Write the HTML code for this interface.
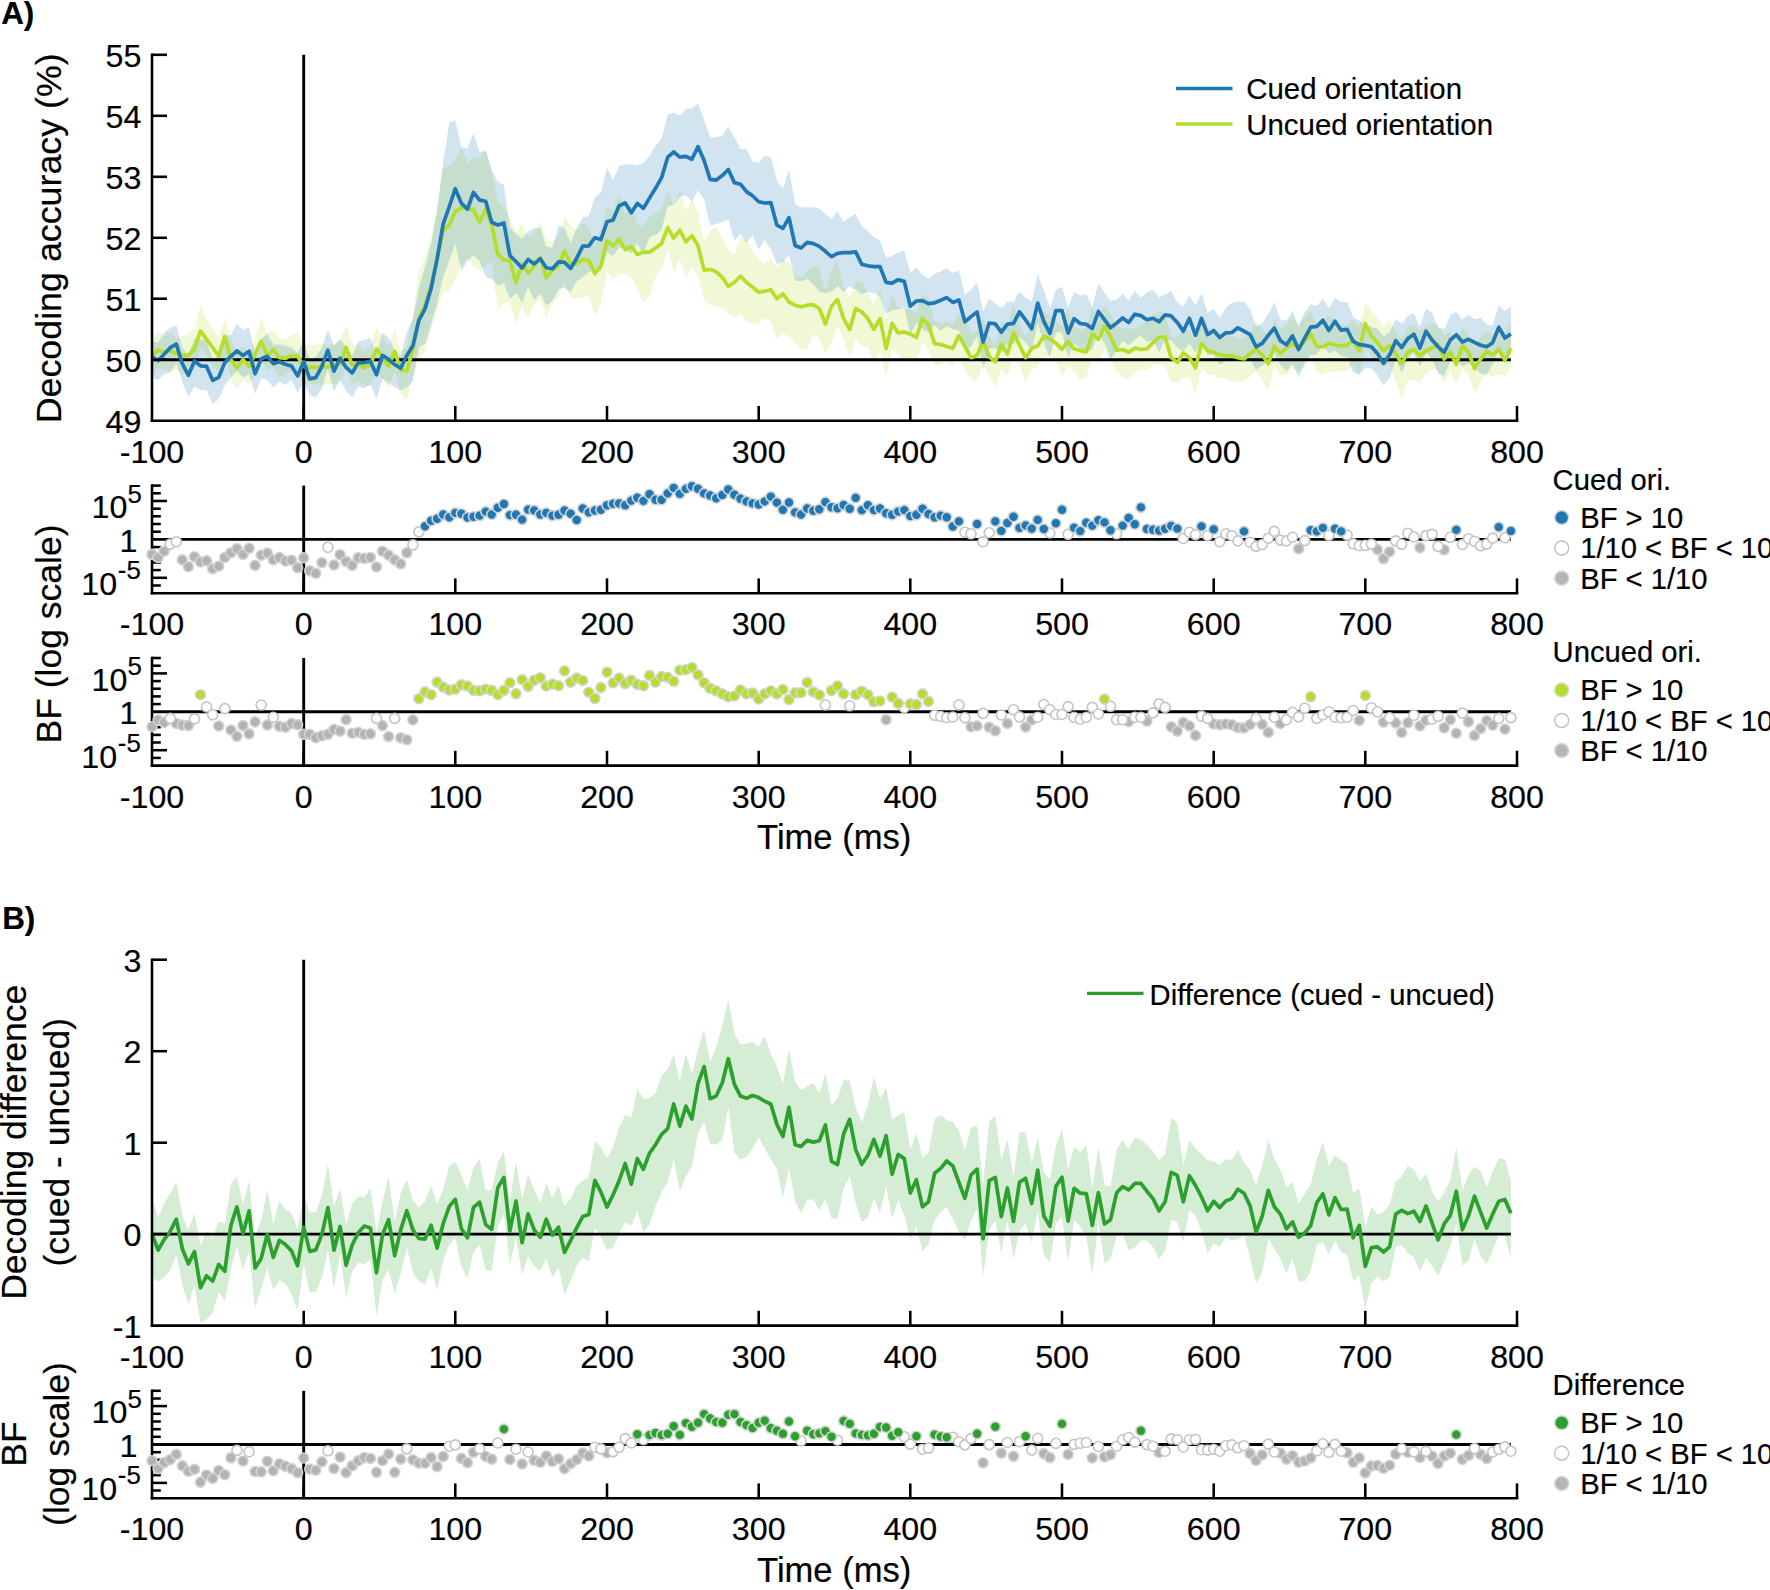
<!DOCTYPE html>
<html><head><meta charset="utf-8"><title>Figure</title>
<style>html,body{margin:0;padding:0;background:#fff}svg{display:block}</style></head>
<body>
<svg width="1770" height="1590" viewBox="0 0 1770 1590" font-family="'Liberation Sans', Arial, Helvetica, sans-serif" fill="#000"><style>text{stroke:#000;stroke-width:0.2px}</style>
<rect width="1770" height="1590" fill="#fff"/>
<polygon points="152,340.2 158.1,330.8 164.1,336.6 170.2,332.6 176.3,338.2 182.3,336.7 188.4,333.2 194.5,329 200.5,305.8 206.6,319.8 212.7,328.4 218.7,338 224.8,317.6 230.9,338.6 236.9,352.9 243,346.1 249.1,353.8 255.1,339.7 261.2,317.2 267.3,332.7 273.3,329.8 279.4,338.9 285.5,339.6 291.5,335.5 297.6,332.8 303.7,344.2 309.7,345.1 315.8,344.9 321.9,343.3 327.9,346.3 334,343.8 340.1,340.2 346.1,325.5 352.2,344.5 358.3,344.6 364.3,351.2 370.4,346.2 376.5,327.9 382.5,335.9 388.6,346.5 394.7,328.1 400.7,351.3 406.8,346.4 412.9,316.3 418.9,271.1 425,258 431.1,236.2 437.1,207.8 443.2,167.6 449.3,165.4 455.3,160.2 461.4,146.2 467.5,163.3 473.5,157.8 479.6,157.5 485.7,149.8 491.7,172.4 497.8,200.8 503.9,207.2 509.9,218.4 516,232.5 522.1,224.1 528.1,236.5 534.2,234.2 540.3,220.9 546.3,239.6 552.4,242.5 558.5,236.8 564.5,216.4 570.6,226 576.7,229.4 582.7,222.6 588.8,227.5 594.9,245.9 600.9,228.2 607,206.9 613.1,210.7 619.1,194.6 625.2,214 631.3,205 637.3,224.1 643.4,226.6 649.5,216.5 655.5,213.7 661.6,209.6 667.7,190.4 673.7,206.5 679.8,189.1 685.9,211.3 691.9,198.9 698,212.9 704.1,241.6 710.1,231.5 716.2,226.2 722.3,238.3 728.3,250.1 734.4,254.8 740.5,238.1 746.5,239.8 752.6,252 758.7,258.7 764.7,264.7 770.8,258.4 776.9,267.4 782.9,259.5 789,261.6 795.1,276.7 801.1,277.8 807.2,271.1 813.3,266.4 819.3,268.5 825.4,290.8 831.5,269.6 837.5,260.8 843.6,286.2 849.7,298.2 855.7,280.8 861.8,282.1 867.9,292.5 873.9,305 880,288.5 886.1,319.4 892.1,295.4 898.2,307.5 904.3,309.1 910.3,309.2 916.4,313.3 922.5,293.3 928.5,299.3 934.6,321.3 940.7,324.1 946.7,321.1 952.8,324.3 958.9,313.4 964.9,319.6 971,332.7 977.1,331.1 983.1,318 989.2,336.9 995.3,344.2 1001.3,322 1007.4,325.9 1013.5,304.6 1019.5,323.9 1025.6,337.8 1031.7,322.2 1037.7,317.4 1043.8,311.5 1049.9,315.6 1055.9,322.4 1062,325.3 1068.1,308.6 1074.1,326.3 1080.2,330.2 1086.3,327.7 1092.3,306.9 1098.4,319 1104.5,304.9 1110.5,313.3 1116.6,325.9 1122.7,328.2 1128.7,328.3 1134.8,329.2 1140.9,325.3 1146.9,321.4 1153,316 1159.1,311.2 1165.1,313.5 1171.2,336.4 1177.3,337.5 1183.3,329.7 1189.4,330.4 1195.5,340.9 1201.5,314.5 1207.6,326.6 1213.7,331.8 1219.7,333.2 1225.8,329.1 1231.9,335.4 1237.9,338.7 1244,337.8 1250.1,334.1 1256.1,321 1262.2,329.5 1268.3,337 1274.3,318.4 1280.4,330.8 1286.5,323.4 1292.5,318.2 1298.6,323.5 1304.7,316.6 1310.7,310.8 1316.8,325.8 1322.9,320.6 1328.9,316 1335,319.5 1341.1,325 1347.1,325.3 1353.2,319.8 1359.3,327.6 1365.3,302.8 1371.4,311.1 1377.5,317.3 1383.5,326.8 1389.6,319.6 1395.7,331.8 1401.7,338.9 1407.8,326.9 1413.9,324.9 1419.9,331.8 1426,325.7 1432.1,323.6 1438.1,324.7 1444.2,335.1 1450.3,331.4 1456.3,340.8 1462.4,327.8 1468.5,335.8 1474.5,347.9 1480.6,336.3 1486.7,332 1492.7,334.9 1498.8,326.9 1504.9,332.5 1510.9,321.7 1510.9,367.5 1504.9,376.4 1498.8,374.1 1492.7,377.1 1486.7,374 1480.6,383.1 1474.5,392.5 1468.5,374.7 1462.4,367.9 1456.3,384.9 1450.3,369.9 1444.2,383.3 1438.1,369.9 1432.1,369.6 1426,373.5 1419.9,383.4 1413.9,379.8 1407.8,380.2 1401.7,398.8 1395.7,381.2 1389.6,364.1 1383.5,367.2 1377.5,362.7 1371.4,355.6 1365.3,346.4 1359.3,378.9 1353.2,364.4 1347.1,371.7 1341.1,370.8 1335,372.3 1328.9,371.4 1322.9,374.6 1316.8,372.7 1310.7,355.8 1304.7,366.9 1298.6,371.4 1292.5,368.1 1286.5,375 1280.4,375.6 1274.3,365.2 1268.3,390.8 1262.2,381 1256.1,370.7 1250.1,376 1244,381.6 1237.9,381.2 1231.9,382.3 1225.8,378.2 1219.7,377.8 1213.7,374.9 1207.6,374.1 1201.5,368.1 1195.5,395.2 1189.4,376.5 1183.3,378 1177.3,382.9 1171.2,381.4 1165.1,367.1 1159.1,363.9 1153,364.9 1146.9,369.9 1140.9,369.8 1134.8,372.9 1128.7,379.2 1122.7,377.1 1116.6,371.8 1110.5,359.4 1104.5,350.1 1098.4,362.5 1092.3,359.7 1086.3,376.3 1080.2,380.3 1074.1,371.8 1068.1,365.7 1062,376.8 1055.9,360.1 1049.9,356.1 1043.8,357.4 1037.7,367.2 1031.7,369.2 1025.6,382.8 1019.5,365.1 1013.5,358.6 1007.4,376 1001.3,368.5 995.3,387.6 989.2,376.1 983.1,362.5 977.1,381.3 971,379.6 964.9,369.9 958.9,357.4 952.8,366.3 946.7,361.3 940.7,364.3 934.6,365.6 928.5,349.1 922.5,341.4 916.4,362.7 910.3,360.4 904.3,360.6 898.2,354.5 892.1,349.8 886.1,377.1 880,348.8 873.9,364.2 867.9,346.6 861.8,345.9 855.7,339.1 849.7,358 843.6,338.3 837.5,326.4 831.5,342.1 825.4,354.2 819.3,338.1 813.3,334.1 807.2,348.4 801.1,349.4 795.1,343.3 789,335.7 782.9,334 776.9,339 770.8,321.6 764.7,317.8 758.7,322.9 752.6,324 746.5,320.2 740.5,315 734.4,316.9 728.3,313.4 722.3,307.9 716.2,306.6 710.1,304.9 704.1,299.7 698,275.5 691.9,266.8 685.9,278.2 679.8,259.1 673.7,272.2 667.7,248.4 661.6,268.9 655.5,277.3 649.5,296.2 643.4,302 637.3,288.2 631.3,277 625.2,273.5 619.1,274.4 613.1,279.2 607,270.9 600.9,303.2 594.9,315.7 588.8,295.8 582.7,297.3 576.7,298.4 570.6,297.4 564.5,282.4 558.5,297 552.4,303.7 546.3,316.9 540.3,299.4 534.2,303.8 528.1,319 522.1,306.3 516,323.5 509.9,302.1 503.9,302.4 497.8,310.1 491.7,261 485.7,265.7 479.6,270.6 473.5,266.3 467.5,258.1 461.4,265.3 455.3,277.7 449.3,291.9 443.2,292 437.1,310.5 431.1,328.4 425,351.6 418.9,359.1 412.9,376.7 406.8,400.4 400.7,393.5 394.7,370.4 388.6,388.2 382.5,378.9 376.5,370.9 370.4,386.3 364.3,384.7 358.3,381.7 352.2,384.3 346.1,366.7 340.1,381.3 334,383.9 327.9,384 321.9,385.7 315.8,384.5 309.7,383.8 303.7,383.6 297.6,372.1 291.5,370.8 285.5,374.6 279.4,376.9 273.3,368 267.3,370.8 261.2,359.8 255.1,372.5 249.1,385 243,378.5 236.9,388.7 230.9,379.1 224.8,356 218.7,373.6 212.7,364.8 206.6,354.7 200.5,348.7 194.5,367.6 188.4,376.1 182.3,373.8 176.3,369.8 170.2,371.5 164.1,370 158.1,367.6 152,374.8" fill="#b5de2b" fill-opacity="0.2"/>
<polygon points="152,340.6 158.1,343.1 164.1,332.7 170.2,327.7 176.3,325.3 182.3,347.8 188.4,355.3 194.5,338 200.5,339.8 206.6,340.1 212.7,358.8 218.7,356.3 224.8,336.7 230.9,334.7 236.9,323.7 243,330.2 249.1,327.3 255.1,353.2 261.2,338.9 267.3,333.9 273.3,344.8 279.4,344.6 285.5,346.1 291.5,347.7 297.6,352.8 303.7,341.8 309.7,360.3 315.8,356.7 321.9,348 327.9,329.7 334,346.1 340.1,338.8 346.1,347.1 352.2,356 358.3,341.4 364.3,340.2 370.4,338.1 376.5,355.4 382.5,332.8 388.6,337.6 394.7,350.2 400.7,356.2 406.8,332.3 412.9,318.9 418.9,288 425,267.5 431.1,243.5 437.1,210.7 443.2,162.6 449.3,122.5 455.3,120.3 461.4,147.4 467.5,147.9 473.5,132.9 479.6,152.6 485.7,150.4 491.7,170 497.8,181.4 503.9,185 509.9,227.8 516,233.9 522.1,238.9 528.1,231.5 534.2,228.1 540.3,227.8 546.3,246.9 552.4,247.4 558.5,225.6 564.5,228.2 570.6,243.2 576.7,228.1 582.7,217.5 588.8,216 594.9,197.2 600.9,192.3 607,167.8 613.1,180.1 619.1,166.1 625.2,164.6 631.3,164.3 637.3,165.5 643.4,162.9 649.5,155.9 655.5,145.7 661.6,138.8 667.7,114.7 673.7,112.7 679.8,115.6 685.9,109.3 691.9,108.2 698,103.5 704.1,120.1 710.1,137.3 716.2,137.1 722.3,135.6 728.3,126.3 734.4,137.3 740.5,149 746.5,149 752.6,161.4 758.7,162.8 764.7,155.6 770.8,156.9 776.9,180.6 782.9,188.7 789,169.5 795.1,203.4 801.1,207.4 807.2,207.2 813.3,207.5 819.3,208.4 825.4,213.9 831.5,218.7 837.5,211.3 843.6,221.9 849.7,217.2 855.7,213.7 861.8,226.6 867.9,230.9 873.9,236.9 880,240.4 886.1,257.7 892.1,256.1 898.2,252.1 904.3,250.7 910.3,272.7 916.4,267.6 922.5,274.9 928.5,278.8 934.6,273.4 940.7,271.4 946.7,267.8 952.8,273 958.9,270.2 964.9,295 971,289.5 977.1,282.8 983.1,311 989.2,298.6 995.3,303.7 1001.3,308 1007.4,301.8 1013.5,301.7 1019.5,291.6 1025.6,297.7 1031.7,301.6 1037.7,273.9 1043.8,289.7 1049.9,308.3 1055.9,289.7 1062,286.7 1068.1,307.1 1074.1,292.2 1080.2,295.5 1086.3,294.4 1092.3,307.6 1098.4,283.3 1104.5,292.6 1110.5,301 1116.6,299.5 1122.7,293.7 1128.7,300.5 1134.8,290.8 1140.9,297.7 1146.9,292.6 1153,289.8 1159.1,297.5 1165.1,294.4 1171.2,290.8 1177.3,302.8 1183.3,306.4 1189.4,295.4 1195.5,305.3 1201.5,293.5 1207.6,312.8 1213.7,308.8 1219.7,317.7 1225.8,307.9 1231.9,302.9 1237.9,301.2 1244,301.7 1250.1,309.3 1256.1,326.2 1262.2,323.5 1268.3,314.1 1274.3,302.5 1280.4,319.4 1286.5,320.5 1292.5,311 1298.6,327 1304.7,312.2 1310.7,304.6 1316.8,306.1 1322.9,298.8 1328.9,308.3 1335,298.2 1341.1,302.1 1347.1,302.1 1353.2,317.2 1359.3,320.6 1365.3,324.3 1371.4,327.2 1377.5,328.4 1383.5,336.2 1389.6,332.5 1395.7,318.7 1401.7,324.3 1407.8,315.8 1413.9,313.3 1419.9,326.4 1426,308.7 1432.1,312.8 1438.1,327.8 1444.2,329.3 1450.3,315.2 1456.3,311.8 1462.4,319.6 1468.5,315 1474.5,319.3 1480.6,317.8 1486.7,324.2 1492.7,325.4 1498.8,305.3 1504.9,311.2 1510.9,305.7 1510.9,353.4 1504.9,356.4 1498.8,351.1 1492.7,363.9 1486.7,374.7 1480.6,373.3 1474.5,367.8 1468.5,363.6 1462.4,366.4 1456.3,359.3 1450.3,360.9 1444.2,376.1 1438.1,373.5 1432.1,359.3 1426,353.1 1419.9,366.7 1413.9,352.9 1407.8,359.3 1401.7,372.5 1395.7,359.2 1389.6,378.3 1383.5,385 1377.5,375.4 1371.4,368.2 1365.3,368.3 1359.3,374 1353.2,372.7 1347.1,357.1 1341.1,356.2 1335,350.4 1328.9,353.6 1322.9,345.2 1316.8,354.6 1310.7,355.4 1304.7,362.8 1298.6,377.5 1292.5,364 1286.5,371.8 1280.4,365.1 1274.3,353 1268.3,361.3 1262.2,365.7 1256.1,370 1250.1,359.5 1244,360.1 1237.9,355.5 1231.9,357.1 1225.8,361.4 1219.7,364.8 1213.7,354.8 1207.6,354.9 1201.5,339.8 1195.5,352.7 1189.4,343.4 1183.3,351.2 1177.3,347.5 1171.2,340.5 1165.1,339.3 1159.1,352.2 1153,340.6 1146.9,341.8 1140.9,335.6 1134.8,339.6 1128.7,345.5 1122.7,340.9 1116.6,351.1 1110.5,359.1 1104.5,342.8 1098.4,333.2 1092.3,349.3 1086.3,352.6 1080.2,348.6 1074.1,343.7 1068.1,357.3 1062,332.7 1055.9,332 1049.9,358.1 1043.8,342.7 1037.7,322.9 1031.7,351 1025.6,342.6 1019.5,337 1013.5,344.1 1007.4,344.7 1001.3,353.4 995.3,348.4 989.2,348.5 983.1,369.7 977.1,335.8 971,346.5 964.9,351.5 958.9,330.6 952.8,329.2 946.7,325.8 940.7,330.9 934.6,324.9 928.5,332.2 922.5,328.8 916.4,323.2 910.3,333.9 904.3,308 898.2,309.2 892.1,310.3 886.1,313.9 880,296.7 873.9,293 867.9,291.9 861.8,293.9 855.7,289.5 849.7,286.4 843.6,292.1 837.5,286.1 831.5,291.6 825.4,293.3 819.3,291.4 813.3,283.9 807.2,279 801.1,281.3 795.1,280.5 789,255.2 782.9,262.1 776.9,264.1 770.8,249.5 764.7,239.6 758.7,249.3 752.6,235.5 746.5,242.7 740.5,233.9 734.4,240.8 728.3,219.6 722.3,222.2 716.2,224 710.1,225.2 704.1,199.2 698,190.3 691.9,201.5 685.9,195.5 679.8,196.6 673.7,205.3 667.7,206 661.6,229.7 655.5,235 649.5,237.1 643.4,254.5 637.3,243.2 631.3,253.6 625.2,248.9 619.1,247 613.1,255.9 607,252 600.9,270.9 594.9,270.2 588.8,272 582.7,277.3 576.7,281.2 570.6,292.6 564.5,287.5 558.5,288.9 552.4,301.1 546.3,305.5 540.3,293.8 534.2,300 528.1,286.8 522.1,302.7 516,293 509.9,298.9 503.9,282.9 497.8,285.5 491.7,279.1 485.7,277.1 479.6,260.8 473.5,255.6 467.5,261.1 461.4,270.6 455.3,243.8 449.3,260.6 443.2,276.5 437.1,303.6 431.1,324.4 425,343.8 418.9,347.3 412.9,380.6 406.8,387.5 400.7,390.3 394.7,387.1 388.6,382.9 382.5,378.4 376.5,399.4 370.4,384.3 364.3,388.2 358.3,386.7 352.2,397.3 346.1,390.8 340.1,379.8 334,391.3 327.9,368.4 321.9,388.8 315.8,397.4 309.7,395.6 303.7,382.2 297.6,392.5 291.5,379.5 285.5,384.9 279.4,381.6 273.3,387.2 267.3,380.3 261.2,378.3 255.1,394.1 249.1,373.9 243,377.5 236.9,371 230.9,377.6 224.8,385.5 218.7,398.8 212.7,404.3 206.6,390.3 200.5,390.1 194.5,386.6 188.4,396.7 182.3,381.9 176.3,363 170.2,372.4 164.1,374.1 158.1,379.9 152,377.7" fill="#1f77b4" fill-opacity="0.2"/>
<line x1="152" y1="359.7" x2="1510.9" y2="359.7" stroke="#000" stroke-width="2.9" stroke-linecap="butt"/>
<line x1="303.7" y1="54.8" x2="303.7" y2="420.7" stroke="#000" stroke-width="2.9" stroke-linecap="butt"/>
<polyline points="152,355.6 158.1,350.2 164.1,352.2 170.2,350.8 176.3,353.6 182.3,355.3 188.4,355.3 194.5,348.8 200.5,330.9 206.6,339.3 212.7,347.5 218.7,355.9 224.8,336.3 230.9,359.7 236.9,368.2 243,359.7 249.1,366.4 255.1,353.6 261.2,341.4 267.3,355.6 273.3,349.5 279.4,357.6 285.5,358.3 291.5,355.3 297.6,356.3 303.7,366.4 309.7,367.4 315.8,367.4 321.9,366.4 327.9,367.1 334,365.1 340.1,363.7 346.1,347.5 352.2,365.1 358.3,364.4 364.3,367.8 370.4,365.1 376.5,348.8 382.5,357.2 388.6,366.5 394.7,351.4 400.7,370.2 406.8,371 412.9,348.9 418.9,317.9 425,304.8 431.1,285.2 437.1,259 443.2,231.2 449.3,224.7 455.3,211.6 461.4,207.5 467.5,208.3 473.5,209.9 479.6,222.2 485.7,209.1 491.7,224.7 497.8,254.1 503.9,259.8 509.9,260.6 516,282.7 522.1,263.9 528.1,272.9 534.2,266.4 540.3,257.4 546.3,277.8 552.4,270.4 558.5,265.5 564.5,250.8 570.6,263.9 576.7,263.9 582.7,259 588.8,260.6 594.9,273.7 600.9,266.2 607,240.8 613.1,245.7 619.1,239.2 625.2,249.6 631.3,246.4 637.3,254.5 643.4,252.1 649.5,252.1 655.5,248 661.6,243.6 667.7,227.6 673.7,238.2 679.8,230 685.9,241.9 691.9,235.7 698,245.5 704.1,270.1 710.1,269.3 716.2,271.7 722.3,277.4 728.3,286.4 734.4,282.3 740.5,276.3 746.5,282.3 752.6,287.2 758.7,292.2 764.7,291.3 770.8,289.7 776.9,298.7 782.9,293.8 789,302 795.1,305.2 801.1,306.9 807.2,305.2 813.3,304.7 819.3,308.5 825.4,324 831.5,306.2 837.5,299.6 843.6,318.6 849.7,329.5 855.7,308.5 861.8,311.9 867.9,318.6 873.9,329.5 880,318.6 886.1,348.5 892.1,323.4 898.2,332.9 904.3,331.9 910.3,334.2 916.4,337.4 922.5,318.6 928.5,324.7 934.6,343.7 940.7,344.4 946.7,346.4 952.8,348.2 958.9,335.6 964.9,346.4 971,357.7 977.1,355.3 983.1,341 989.2,356.6 995.3,362 1001.3,344.4 1007.4,353.9 1013.5,332.9 1019.5,345.1 1025.6,357.7 1031.7,348.5 1037.7,345.8 1043.8,336.3 1049.9,339 1055.9,343.1 1062,349.3 1068.1,341.2 1074.1,348.8 1080.2,350.6 1086.3,351.9 1092.3,333.9 1098.4,339.3 1104.5,326.4 1110.5,336.6 1116.6,350.2 1122.7,349.5 1128.7,352.2 1134.8,348.1 1140.9,349.5 1146.9,348.8 1153,342.7 1159.1,337 1165.1,337 1171.2,357.6 1177.3,362.4 1183.3,352.9 1189.4,357.6 1195.5,367.8 1201.5,343.4 1207.6,350.8 1213.7,352.2 1219.7,354.9 1225.8,355.6 1231.9,355.9 1237.9,357.6 1244,359 1250.1,353.6 1256.1,349.5 1262.2,354.9 1268.3,363.7 1274.3,346.1 1280.4,353.6 1286.5,348.1 1292.5,343.7 1298.6,348.1 1304.7,341.4 1310.7,333.9 1316.8,346.5 1322.9,346.8 1328.9,343.4 1335,344.7 1341.1,346.1 1347.1,345.4 1353.2,340 1359.3,350.8 1365.3,323.7 1371.4,335.9 1377.5,342.7 1383.5,350.8 1389.6,345.4 1395.7,353.6 1401.7,363.7 1407.8,352.2 1413.9,349.5 1419.9,355.6 1426,350.8 1432.1,348.1 1438.1,344.7 1444.2,359 1450.3,352.2 1456.3,364.4 1462.4,346.1 1468.5,352.2 1474.5,368.5 1480.6,359 1486.7,351.5 1492.7,354.9 1498.8,349.5 1504.9,360.3 1510.9,348.1" fill="none" stroke="#b5de2b" stroke-width="3.7" stroke-linejoin="round" stroke-linecap="butt"/>
<polyline points="152,356.9 158.1,360.7 164.1,354.2 170.2,347.7 176.3,344.1 182.3,363.7 188.4,375.3 194.5,361 200.5,365.8 206.6,366.4 212.7,380.3 218.7,377.3 224.8,362.6 230.9,356.3 236.9,350.8 243,355.6 249.1,351.3 255.1,373.9 261.2,359 267.3,356.3 273.3,363.7 279.4,361.7 285.5,364.4 291.5,366 297.6,375.9 303.7,361.7 309.7,378.9 315.8,377.6 321.9,366.4 327.9,350.2 334,371.2 340.1,358.3 346.1,367.4 352.2,372.8 358.3,362.6 364.3,362.6 370.4,361.3 376.5,374.8 382.5,355.4 388.6,359.4 394.7,364.5 400.7,368.2 406.8,355.5 412.9,345.7 418.9,320.3 425,308.9 431.1,288.4 437.1,259 443.2,223.8 449.3,206.7 455.3,188.7 461.4,203.4 467.5,209.1 473.5,192.4 479.6,200.1 485.7,201.3 491.7,222.2 497.8,225 503.9,223 509.9,255.7 516,261.5 522.1,268 528.1,259.5 534.2,263.9 540.3,258.7 546.3,267.7 552.4,268.8 558.5,261.9 564.5,262.3 570.6,268.5 576.7,258.2 582.7,246.2 588.8,245.9 594.9,237.7 600.9,239.6 607,221.8 613.1,220 619.1,205.7 625.2,203 631.3,212.8 637.3,203.4 643.4,208.3 649.5,198.1 655.5,188.3 661.6,177.7 667.7,157.2 673.7,152 679.8,157.2 685.9,156.4 691.9,159.2 698,146.6 704.1,160.5 710.1,179.3 716.2,180.1 722.3,175.6 728.3,169.5 734.4,182.6 740.5,184.2 746.5,191.6 752.6,195.7 758.7,201.7 764.7,203 770.8,202.7 776.9,225.1 782.9,228.4 789,217.7 795.1,245.5 801.1,248 807.2,242.3 813.3,243.6 819.3,246.4 825.4,251.3 831.5,256.6 837.5,253.4 843.6,252.6 849.7,252.6 855.7,251.9 861.8,264.4 867.9,265.8 873.9,266.7 880,266.7 886.1,282.3 892.1,283.1 898.2,279.7 904.3,281.4 910.3,306.2 916.4,301 922.5,300.6 928.5,303.7 934.6,302.8 940.7,300.3 946.7,297.6 952.8,302.4 958.9,300.1 964.9,321.8 971,316.6 977.1,311.9 983.1,342 989.2,323 995.3,323.8 1001.3,332.2 1007.4,324.1 1013.5,323.4 1019.5,311.9 1025.6,320 1031.7,328.8 1037.7,303.1 1043.8,321.4 1049.9,333.3 1055.9,310.5 1062,310.7 1068.1,333.1 1074.1,318.6 1080.2,323.5 1086.3,324.4 1092.3,328.5 1098.4,311.5 1104.5,319.7 1110.5,327.8 1116.6,323.1 1122.7,318 1128.7,322.4 1134.8,314.2 1140.9,315.6 1146.9,319.7 1153,318.3 1159.1,321.7 1165.1,314.9 1171.2,315.9 1177.3,322.4 1183.3,331.2 1189.4,318.3 1195.5,335.3 1201.5,318.3 1207.6,334.6 1213.7,330.5 1219.7,337.6 1225.8,332.9 1231.9,332.5 1237.9,327.8 1244,331.2 1250.1,334.6 1256.1,346.8 1262.2,343.4 1268.3,335.3 1274.3,328.1 1280.4,340.7 1286.5,344.7 1292.5,335.9 1298.6,349.5 1304.7,338 1310.7,327.1 1316.8,326.4 1322.9,320.3 1328.9,330.5 1335,321.3 1341.1,330.2 1347.1,329.4 1353.2,341.4 1359.3,344.7 1365.3,345.4 1371.4,346.8 1377.5,353.6 1383.5,363.3 1389.6,354.9 1395.7,340.7 1401.7,347.5 1407.8,338.6 1413.9,334.3 1419.9,348.1 1426,331.2 1432.1,340 1438.1,346.8 1444.2,352.2 1450.3,340 1456.3,334.8 1462.4,342 1468.5,339.3 1474.5,342.4 1480.6,345.2 1486.7,346.8 1492.7,342.7 1498.8,327.1 1504.9,338 1510.9,333.9" fill="none" stroke="#1f77b4" stroke-width="3.7" stroke-linejoin="round" stroke-linecap="butt"/>
<line x1="152" y1="53.5" x2="152" y2="422" stroke="#000" stroke-width="2.55" stroke-linecap="butt"/>
<text x="141.3" y="432.9" font-size="32.2" text-anchor="end">49</text>
<line x1="152" y1="359.7" x2="167" y2="359.7" stroke="#000" stroke-width="2.55" stroke-linecap="butt"/>
<text x="141.3" y="371.9" font-size="32.2" text-anchor="end">50</text>
<line x1="152" y1="298.7" x2="167" y2="298.7" stroke="#000" stroke-width="2.55" stroke-linecap="butt"/>
<text x="141.3" y="310.9" font-size="32.2" text-anchor="end">51</text>
<line x1="152" y1="237.8" x2="167" y2="237.8" stroke="#000" stroke-width="2.55" stroke-linecap="butt"/>
<text x="141.3" y="249.9" font-size="32.2" text-anchor="end">52</text>
<line x1="152" y1="176.8" x2="167" y2="176.8" stroke="#000" stroke-width="2.55" stroke-linecap="butt"/>
<text x="141.3" y="189" font-size="32.2" text-anchor="end">53</text>
<line x1="152" y1="115.8" x2="167" y2="115.8" stroke="#000" stroke-width="2.55" stroke-linecap="butt"/>
<text x="141.3" y="128" font-size="32.2" text-anchor="end">54</text>
<line x1="152" y1="54.8" x2="167" y2="54.8" stroke="#000" stroke-width="2.55" stroke-linecap="butt"/>
<text x="141.3" y="67" font-size="32.2" text-anchor="end">55</text>
<line x1="150.7" y1="420.7" x2="1518.3" y2="420.7" stroke="#000" stroke-width="2.55" stroke-linecap="butt"/>
<text x="152" y="462.6" font-size="32.2" text-anchor="middle">-100</text>
<line x1="303.7" y1="420.7" x2="303.7" y2="405.9" stroke="#000" stroke-width="2.55" stroke-linecap="butt"/>
<text x="303.7" y="462.6" font-size="32.2" text-anchor="middle">0</text>
<line x1="455.3" y1="420.7" x2="455.3" y2="405.9" stroke="#000" stroke-width="2.55" stroke-linecap="butt"/>
<text x="455.3" y="462.6" font-size="32.2" text-anchor="middle">100</text>
<line x1="607" y1="420.7" x2="607" y2="405.9" stroke="#000" stroke-width="2.55" stroke-linecap="butt"/>
<text x="607" y="462.6" font-size="32.2" text-anchor="middle">200</text>
<line x1="758.7" y1="420.7" x2="758.7" y2="405.9" stroke="#000" stroke-width="2.55" stroke-linecap="butt"/>
<text x="758.7" y="462.6" font-size="32.2" text-anchor="middle">300</text>
<line x1="910.3" y1="420.7" x2="910.3" y2="405.9" stroke="#000" stroke-width="2.55" stroke-linecap="butt"/>
<text x="910.3" y="462.6" font-size="32.2" text-anchor="middle">400</text>
<line x1="1062" y1="420.7" x2="1062" y2="405.9" stroke="#000" stroke-width="2.55" stroke-linecap="butt"/>
<text x="1062" y="462.6" font-size="32.2" text-anchor="middle">500</text>
<line x1="1213.7" y1="420.7" x2="1213.7" y2="405.9" stroke="#000" stroke-width="2.55" stroke-linecap="butt"/>
<text x="1213.7" y="462.6" font-size="32.2" text-anchor="middle">600</text>
<line x1="1365.3" y1="420.7" x2="1365.3" y2="405.9" stroke="#000" stroke-width="2.55" stroke-linecap="butt"/>
<text x="1365.3" y="462.6" font-size="32.2" text-anchor="middle">700</text>
<line x1="1517" y1="420.7" x2="1517" y2="405.9" stroke="#000" stroke-width="2.55" stroke-linecap="butt"/>
<text x="1517" y="462.6" font-size="32.2" text-anchor="middle">800</text>
<line x1="1176" y1="88.5" x2="1232.5" y2="88.5" stroke="#1f77b4" stroke-width="3.4" stroke-linecap="butt"/>
<line x1="1176" y1="124" x2="1232.5" y2="124" stroke="#b5de2b" stroke-width="3.4" stroke-linecap="butt"/>
<text x="1246.3" y="99.3" font-size="29.4" text-anchor="start">Cued orientation</text>
<text x="1246.3" y="134.8" font-size="29.4" text-anchor="start">Uncued orientation</text>
<line x1="152" y1="539.4" x2="1510.9" y2="539.4" stroke="#000" stroke-width="2.9" stroke-linecap="butt"/>
<line x1="303.7" y1="485.6" x2="303.7" y2="593.2" stroke="#000" stroke-width="2.9" stroke-linecap="butt"/>
<line x1="152" y1="484.3" x2="152" y2="594.5" stroke="#000" stroke-width="2.55" stroke-linecap="butt"/>
<line x1="152" y1="485.6" x2="160.8" y2="485.6" stroke="#000" stroke-width="2.55" stroke-linecap="butt"/>
<line x1="152" y1="493.3" x2="160.8" y2="493.3" stroke="#000" stroke-width="2.55" stroke-linecap="butt"/>
<line x1="152" y1="501" x2="167" y2="501" stroke="#000" stroke-width="2.55" stroke-linecap="butt"/>
<line x1="152" y1="508.7" x2="160.8" y2="508.7" stroke="#000" stroke-width="2.55" stroke-linecap="butt"/>
<line x1="152" y1="516.3" x2="160.8" y2="516.3" stroke="#000" stroke-width="2.55" stroke-linecap="butt"/>
<line x1="152" y1="524" x2="160.8" y2="524" stroke="#000" stroke-width="2.55" stroke-linecap="butt"/>
<line x1="152" y1="531.7" x2="160.8" y2="531.7" stroke="#000" stroke-width="2.55" stroke-linecap="butt"/>
<line x1="152" y1="547.1" x2="160.8" y2="547.1" stroke="#000" stroke-width="2.55" stroke-linecap="butt"/>
<line x1="152" y1="554.8" x2="160.8" y2="554.8" stroke="#000" stroke-width="2.55" stroke-linecap="butt"/>
<line x1="152" y1="562.5" x2="160.8" y2="562.5" stroke="#000" stroke-width="2.55" stroke-linecap="butt"/>
<line x1="152" y1="570.1" x2="160.8" y2="570.1" stroke="#000" stroke-width="2.55" stroke-linecap="butt"/>
<line x1="152" y1="577.8" x2="167" y2="577.8" stroke="#000" stroke-width="2.55" stroke-linecap="butt"/>
<line x1="152" y1="585.5" x2="160.8" y2="585.5" stroke="#000" stroke-width="2.55" stroke-linecap="butt"/>
<text x="127.3" y="518.3" font-size="32.2" text-anchor="end">10</text>
<text x="127.5" y="502.5" font-size="25.8" text-anchor="start">5</text>
<text x="117.1" y="595.1" font-size="32.2" text-anchor="end">10</text>
<text x="117.8" y="579.3" font-size="25.8" text-anchor="start">-5</text>
<text x="137.3" y="551.6" font-size="32.2" text-anchor="end">1</text>
<line x1="150.7" y1="593.2" x2="1518.3" y2="593.2" stroke="#000" stroke-width="2.55" stroke-linecap="butt"/>
<text x="152" y="635.1" font-size="32.2" text-anchor="middle">-100</text>
<line x1="303.7" y1="593.2" x2="303.7" y2="578.4" stroke="#000" stroke-width="2.55" stroke-linecap="butt"/>
<text x="303.7" y="635.1" font-size="32.2" text-anchor="middle">0</text>
<line x1="455.3" y1="593.2" x2="455.3" y2="578.4" stroke="#000" stroke-width="2.55" stroke-linecap="butt"/>
<text x="455.3" y="635.1" font-size="32.2" text-anchor="middle">100</text>
<line x1="607" y1="593.2" x2="607" y2="578.4" stroke="#000" stroke-width="2.55" stroke-linecap="butt"/>
<text x="607" y="635.1" font-size="32.2" text-anchor="middle">200</text>
<line x1="758.7" y1="593.2" x2="758.7" y2="578.4" stroke="#000" stroke-width="2.55" stroke-linecap="butt"/>
<text x="758.7" y="635.1" font-size="32.2" text-anchor="middle">300</text>
<line x1="910.3" y1="593.2" x2="910.3" y2="578.4" stroke="#000" stroke-width="2.55" stroke-linecap="butt"/>
<text x="910.3" y="635.1" font-size="32.2" text-anchor="middle">400</text>
<line x1="1062" y1="593.2" x2="1062" y2="578.4" stroke="#000" stroke-width="2.55" stroke-linecap="butt"/>
<text x="1062" y="635.1" font-size="32.2" text-anchor="middle">500</text>
<line x1="1213.7" y1="593.2" x2="1213.7" y2="578.4" stroke="#000" stroke-width="2.55" stroke-linecap="butt"/>
<text x="1213.7" y="635.1" font-size="32.2" text-anchor="middle">600</text>
<line x1="1365.3" y1="593.2" x2="1365.3" y2="578.4" stroke="#000" stroke-width="2.55" stroke-linecap="butt"/>
<text x="1365.3" y="635.1" font-size="32.2" text-anchor="middle">700</text>
<line x1="1517" y1="593.2" x2="1517" y2="578.4" stroke="#000" stroke-width="2.55" stroke-linecap="butt"/>
<text x="1517" y="635.1" font-size="32.2" text-anchor="middle">800</text>
<circle cx="152" cy="554.4" r="5.0" fill="#b3b3b3" stroke="#d2d2d2" stroke-width="1.6"/>
<circle cx="158.1" cy="557.5" r="5.0" fill="#b3b3b3" stroke="#d2d2d2" stroke-width="1.6"/>
<circle cx="164.1" cy="551.2" r="5.0" fill="#b3b3b3" stroke="#d2d2d2" stroke-width="1.6"/>
<circle cx="182.3" cy="559.9" r="5.0" fill="#b3b3b3" stroke="#d2d2d2" stroke-width="1.6"/>
<circle cx="188.4" cy="566.7" r="5.0" fill="#b3b3b3" stroke="#d2d2d2" stroke-width="1.6"/>
<circle cx="194.5" cy="556.7" r="5.0" fill="#b3b3b3" stroke="#d2d2d2" stroke-width="1.6"/>
<circle cx="200.5" cy="561.9" r="5.0" fill="#b3b3b3" stroke="#d2d2d2" stroke-width="1.6"/>
<circle cx="206.6" cy="560.7" r="5.0" fill="#b3b3b3" stroke="#d2d2d2" stroke-width="1.6"/>
<circle cx="212.7" cy="568.6" r="5.0" fill="#b3b3b3" stroke="#d2d2d2" stroke-width="1.6"/>
<circle cx="218.7" cy="566.2" r="5.0" fill="#b3b3b3" stroke="#d2d2d2" stroke-width="1.6"/>
<circle cx="224.8" cy="557.5" r="5.0" fill="#b3b3b3" stroke="#d2d2d2" stroke-width="1.6"/>
<circle cx="230.9" cy="552.8" r="5.0" fill="#b3b3b3" stroke="#d2d2d2" stroke-width="1.6"/>
<circle cx="236.9" cy="548.8" r="5.0" fill="#b3b3b3" stroke="#d2d2d2" stroke-width="1.6"/>
<circle cx="243" cy="554.4" r="5.0" fill="#b3b3b3" stroke="#d2d2d2" stroke-width="1.6"/>
<circle cx="249.1" cy="548.3" r="5.0" fill="#b3b3b3" stroke="#d2d2d2" stroke-width="1.6"/>
<circle cx="255.1" cy="565.4" r="5.0" fill="#b3b3b3" stroke="#d2d2d2" stroke-width="1.6"/>
<circle cx="261.2" cy="555.1" r="5.0" fill="#b3b3b3" stroke="#d2d2d2" stroke-width="1.6"/>
<circle cx="267.3" cy="553.1" r="5.0" fill="#b3b3b3" stroke="#d2d2d2" stroke-width="1.6"/>
<circle cx="273.3" cy="559.9" r="5.0" fill="#b3b3b3" stroke="#d2d2d2" stroke-width="1.6"/>
<circle cx="279.4" cy="557.5" r="5.0" fill="#b3b3b3" stroke="#d2d2d2" stroke-width="1.6"/>
<circle cx="285.5" cy="561" r="5.0" fill="#b3b3b3" stroke="#d2d2d2" stroke-width="1.6"/>
<circle cx="291.5" cy="560.2" r="5.0" fill="#b3b3b3" stroke="#d2d2d2" stroke-width="1.6"/>
<circle cx="297.6" cy="567.8" r="5.0" fill="#b3b3b3" stroke="#d2d2d2" stroke-width="1.6"/>
<circle cx="303.7" cy="557.8" r="5.0" fill="#b3b3b3" stroke="#d2d2d2" stroke-width="1.6"/>
<circle cx="309.7" cy="570.7" r="5.0" fill="#b3b3b3" stroke="#d2d2d2" stroke-width="1.6"/>
<circle cx="315.8" cy="573.3" r="5.0" fill="#b3b3b3" stroke="#d2d2d2" stroke-width="1.6"/>
<circle cx="321.9" cy="562.6" r="5.0" fill="#b3b3b3" stroke="#d2d2d2" stroke-width="1.6"/>
<circle cx="334" cy="565" r="5.0" fill="#b3b3b3" stroke="#d2d2d2" stroke-width="1.6"/>
<circle cx="340.1" cy="554.7" r="5.0" fill="#b3b3b3" stroke="#d2d2d2" stroke-width="1.6"/>
<circle cx="346.1" cy="561.5" r="5.0" fill="#b3b3b3" stroke="#d2d2d2" stroke-width="1.6"/>
<circle cx="352.2" cy="565.4" r="5.0" fill="#b3b3b3" stroke="#d2d2d2" stroke-width="1.6"/>
<circle cx="358.3" cy="557.8" r="5.0" fill="#b3b3b3" stroke="#d2d2d2" stroke-width="1.6"/>
<circle cx="364.3" cy="558.3" r="5.0" fill="#b3b3b3" stroke="#d2d2d2" stroke-width="1.6"/>
<circle cx="370.4" cy="557.5" r="5.0" fill="#b3b3b3" stroke="#d2d2d2" stroke-width="1.6"/>
<circle cx="376.5" cy="567" r="5.0" fill="#b3b3b3" stroke="#d2d2d2" stroke-width="1.6"/>
<circle cx="382.5" cy="551.2" r="5.0" fill="#b3b3b3" stroke="#d2d2d2" stroke-width="1.6"/>
<circle cx="388.6" cy="555.1" r="5.0" fill="#b3b3b3" stroke="#d2d2d2" stroke-width="1.6"/>
<circle cx="394.7" cy="559.9" r="5.0" fill="#b3b3b3" stroke="#d2d2d2" stroke-width="1.6"/>
<circle cx="400.7" cy="563.8" r="5.0" fill="#b3b3b3" stroke="#d2d2d2" stroke-width="1.6"/>
<circle cx="406.8" cy="552.8" r="5.0" fill="#b3b3b3" stroke="#d2d2d2" stroke-width="1.6"/>
<circle cx="1298.6" cy="548.8" r="5.0" fill="#b3b3b3" stroke="#d2d2d2" stroke-width="1.6"/>
<circle cx="1377.5" cy="549.6" r="5.0" fill="#b3b3b3" stroke="#d2d2d2" stroke-width="1.6"/>
<circle cx="1383.5" cy="558.6" r="5.0" fill="#b3b3b3" stroke="#d2d2d2" stroke-width="1.6"/>
<circle cx="1389.6" cy="551.7" r="5.0" fill="#b3b3b3" stroke="#d2d2d2" stroke-width="1.6"/>
<circle cx="1419.9" cy="547.6" r="5.0" fill="#b3b3b3" stroke="#d2d2d2" stroke-width="1.6"/>
<circle cx="1444.2" cy="549.8" r="5.0" fill="#b3b3b3" stroke="#d2d2d2" stroke-width="1.6"/>
<circle cx="170.2" cy="544.1" r="5.0" fill="#ffffff" stroke="#c4c4c4" stroke-width="1.6"/>
<circle cx="176.3" cy="541.7" r="5.0" fill="#ffffff" stroke="#c4c4c4" stroke-width="1.6"/>
<circle cx="327.9" cy="547.2" r="5.0" fill="#ffffff" stroke="#c4c4c4" stroke-width="1.6"/>
<circle cx="412.9" cy="544.9" r="5.0" fill="#ffffff" stroke="#c4c4c4" stroke-width="1.6"/>
<circle cx="418.9" cy="531.9" r="5.0" fill="#ffffff" stroke="#c4c4c4" stroke-width="1.6"/>
<circle cx="964.9" cy="532.2" r="5.0" fill="#ffffff" stroke="#c4c4c4" stroke-width="1.6"/>
<circle cx="971" cy="533.8" r="5.0" fill="#ffffff" stroke="#c4c4c4" stroke-width="1.6"/>
<circle cx="983.1" cy="541.7" r="5.0" fill="#ffffff" stroke="#c4c4c4" stroke-width="1.6"/>
<circle cx="989.2" cy="532.7" r="5.0" fill="#ffffff" stroke="#c4c4c4" stroke-width="1.6"/>
<circle cx="1049.9" cy="533" r="5.0" fill="#ffffff" stroke="#c4c4c4" stroke-width="1.6"/>
<circle cx="1068.1" cy="534.3" r="5.0" fill="#ffffff" stroke="#c4c4c4" stroke-width="1.6"/>
<circle cx="1116.6" cy="533.8" r="5.0" fill="#ffffff" stroke="#c4c4c4" stroke-width="1.6"/>
<circle cx="1183.3" cy="538.5" r="5.0" fill="#ffffff" stroke="#c4c4c4" stroke-width="1.6"/>
<circle cx="1189.4" cy="532.2" r="5.0" fill="#ffffff" stroke="#c4c4c4" stroke-width="1.6"/>
<circle cx="1195.5" cy="534.6" r="5.0" fill="#ffffff" stroke="#c4c4c4" stroke-width="1.6"/>
<circle cx="1207.6" cy="535.5" r="5.0" fill="#ffffff" stroke="#c4c4c4" stroke-width="1.6"/>
<circle cx="1219.7" cy="541.7" r="5.0" fill="#ffffff" stroke="#c4c4c4" stroke-width="1.6"/>
<circle cx="1225.8" cy="533.8" r="5.0" fill="#ffffff" stroke="#c4c4c4" stroke-width="1.6"/>
<circle cx="1231.9" cy="535.7" r="5.0" fill="#ffffff" stroke="#c4c4c4" stroke-width="1.6"/>
<circle cx="1237.9" cy="540.9" r="5.0" fill="#ffffff" stroke="#c4c4c4" stroke-width="1.6"/>
<circle cx="1250.1" cy="542.2" r="5.0" fill="#ffffff" stroke="#c4c4c4" stroke-width="1.6"/>
<circle cx="1256.1" cy="546.4" r="5.0" fill="#ffffff" stroke="#c4c4c4" stroke-width="1.6"/>
<circle cx="1262.2" cy="544.5" r="5.0" fill="#ffffff" stroke="#c4c4c4" stroke-width="1.6"/>
<circle cx="1268.3" cy="538.2" r="5.0" fill="#ffffff" stroke="#c4c4c4" stroke-width="1.6"/>
<circle cx="1274.3" cy="531.4" r="5.0" fill="#ffffff" stroke="#c4c4c4" stroke-width="1.6"/>
<circle cx="1280.4" cy="540.1" r="5.0" fill="#ffffff" stroke="#c4c4c4" stroke-width="1.6"/>
<circle cx="1286.5" cy="540.9" r="5.0" fill="#ffffff" stroke="#c4c4c4" stroke-width="1.6"/>
<circle cx="1292.5" cy="537.3" r="5.0" fill="#ffffff" stroke="#c4c4c4" stroke-width="1.6"/>
<circle cx="1304.7" cy="540.6" r="5.0" fill="#ffffff" stroke="#c4c4c4" stroke-width="1.6"/>
<circle cx="1328.9" cy="535.4" r="5.0" fill="#ffffff" stroke="#c4c4c4" stroke-width="1.6"/>
<circle cx="1347.1" cy="535.1" r="5.0" fill="#ffffff" stroke="#c4c4c4" stroke-width="1.6"/>
<circle cx="1353.2" cy="543.8" r="5.0" fill="#ffffff" stroke="#c4c4c4" stroke-width="1.6"/>
<circle cx="1359.3" cy="545.7" r="5.0" fill="#ffffff" stroke="#c4c4c4" stroke-width="1.6"/>
<circle cx="1365.3" cy="545.3" r="5.0" fill="#ffffff" stroke="#c4c4c4" stroke-width="1.6"/>
<circle cx="1371.4" cy="544.1" r="5.0" fill="#ffffff" stroke="#c4c4c4" stroke-width="1.6"/>
<circle cx="1395.7" cy="540.9" r="5.0" fill="#ffffff" stroke="#c4c4c4" stroke-width="1.6"/>
<circle cx="1401.7" cy="544.3" r="5.0" fill="#ffffff" stroke="#c4c4c4" stroke-width="1.6"/>
<circle cx="1407.8" cy="533.2" r="5.0" fill="#ffffff" stroke="#c4c4c4" stroke-width="1.6"/>
<circle cx="1413.9" cy="537" r="5.0" fill="#ffffff" stroke="#c4c4c4" stroke-width="1.6"/>
<circle cx="1426" cy="535.6" r="5.0" fill="#ffffff" stroke="#c4c4c4" stroke-width="1.6"/>
<circle cx="1432.1" cy="534.4" r="5.0" fill="#ffffff" stroke="#c4c4c4" stroke-width="1.6"/>
<circle cx="1438.1" cy="546.4" r="5.0" fill="#ffffff" stroke="#c4c4c4" stroke-width="1.6"/>
<circle cx="1450.3" cy="537.3" r="5.0" fill="#ffffff" stroke="#c4c4c4" stroke-width="1.6"/>
<circle cx="1462.4" cy="544.5" r="5.0" fill="#ffffff" stroke="#c4c4c4" stroke-width="1.6"/>
<circle cx="1468.5" cy="538.7" r="5.0" fill="#ffffff" stroke="#c4c4c4" stroke-width="1.6"/>
<circle cx="1474.5" cy="541.3" r="5.0" fill="#ffffff" stroke="#c4c4c4" stroke-width="1.6"/>
<circle cx="1480.6" cy="545.8" r="5.0" fill="#ffffff" stroke="#c4c4c4" stroke-width="1.6"/>
<circle cx="1486.7" cy="544.1" r="5.0" fill="#ffffff" stroke="#c4c4c4" stroke-width="1.6"/>
<circle cx="1492.7" cy="538.1" r="5.0" fill="#ffffff" stroke="#c4c4c4" stroke-width="1.6"/>
<circle cx="1504.9" cy="537.7" r="5.0" fill="#ffffff" stroke="#c4c4c4" stroke-width="1.6"/>
<circle cx="425" cy="526.2" r="5.0" fill="#1f77b4" stroke="#d4d4d4" stroke-width="1.6"/>
<circle cx="431.1" cy="520.8" r="5.0" fill="#1f77b4" stroke="#d4d4d4" stroke-width="1.6"/>
<circle cx="437.1" cy="518.8" r="5.0" fill="#1f77b4" stroke="#d4d4d4" stroke-width="1.6"/>
<circle cx="443.2" cy="514.5" r="5.0" fill="#1f77b4" stroke="#d4d4d4" stroke-width="1.6"/>
<circle cx="449.3" cy="517.2" r="5.0" fill="#1f77b4" stroke="#d4d4d4" stroke-width="1.6"/>
<circle cx="455.3" cy="512.9" r="5.0" fill="#1f77b4" stroke="#d4d4d4" stroke-width="1.6"/>
<circle cx="461.4" cy="513.7" r="5.0" fill="#1f77b4" stroke="#d4d4d4" stroke-width="1.6"/>
<circle cx="467.5" cy="517.5" r="5.0" fill="#1f77b4" stroke="#d4d4d4" stroke-width="1.6"/>
<circle cx="473.5" cy="516.7" r="5.0" fill="#1f77b4" stroke="#d4d4d4" stroke-width="1.6"/>
<circle cx="479.6" cy="515.6" r="5.0" fill="#1f77b4" stroke="#d4d4d4" stroke-width="1.6"/>
<circle cx="485.7" cy="511.6" r="5.0" fill="#1f77b4" stroke="#d4d4d4" stroke-width="1.6"/>
<circle cx="491.7" cy="514.5" r="5.0" fill="#1f77b4" stroke="#d4d4d4" stroke-width="1.6"/>
<circle cx="497.8" cy="507.7" r="5.0" fill="#1f77b4" stroke="#d4d4d4" stroke-width="1.6"/>
<circle cx="503.9" cy="504" r="5.0" fill="#1f77b4" stroke="#d4d4d4" stroke-width="1.6"/>
<circle cx="509.9" cy="515.1" r="5.0" fill="#1f77b4" stroke="#d4d4d4" stroke-width="1.6"/>
<circle cx="516" cy="514.8" r="5.0" fill="#1f77b4" stroke="#d4d4d4" stroke-width="1.6"/>
<circle cx="522.1" cy="519.6" r="5.0" fill="#1f77b4" stroke="#d4d4d4" stroke-width="1.6"/>
<circle cx="528.1" cy="509.6" r="5.0" fill="#1f77b4" stroke="#d4d4d4" stroke-width="1.6"/>
<circle cx="534.2" cy="510.4" r="5.0" fill="#1f77b4" stroke="#d4d4d4" stroke-width="1.6"/>
<circle cx="540.3" cy="514.5" r="5.0" fill="#1f77b4" stroke="#d4d4d4" stroke-width="1.6"/>
<circle cx="546.3" cy="512.9" r="5.0" fill="#1f77b4" stroke="#d4d4d4" stroke-width="1.6"/>
<circle cx="552.4" cy="515.6" r="5.0" fill="#1f77b4" stroke="#d4d4d4" stroke-width="1.6"/>
<circle cx="558.5" cy="514.8" r="5.0" fill="#1f77b4" stroke="#d4d4d4" stroke-width="1.6"/>
<circle cx="564.5" cy="510.5" r="5.0" fill="#1f77b4" stroke="#d4d4d4" stroke-width="1.6"/>
<circle cx="570.6" cy="513.7" r="5.0" fill="#1f77b4" stroke="#d4d4d4" stroke-width="1.6"/>
<circle cx="576.7" cy="520" r="5.0" fill="#1f77b4" stroke="#d4d4d4" stroke-width="1.6"/>
<circle cx="582.7" cy="508.5" r="5.0" fill="#1f77b4" stroke="#d4d4d4" stroke-width="1.6"/>
<circle cx="588.8" cy="512.4" r="5.0" fill="#1f77b4" stroke="#d4d4d4" stroke-width="1.6"/>
<circle cx="594.9" cy="510.5" r="5.0" fill="#1f77b4" stroke="#d4d4d4" stroke-width="1.6"/>
<circle cx="600.9" cy="509.7" r="5.0" fill="#1f77b4" stroke="#d4d4d4" stroke-width="1.6"/>
<circle cx="607" cy="505.3" r="5.0" fill="#1f77b4" stroke="#d4d4d4" stroke-width="1.6"/>
<circle cx="613.1" cy="503.7" r="5.0" fill="#1f77b4" stroke="#d4d4d4" stroke-width="1.6"/>
<circle cx="619.1" cy="503.4" r="5.0" fill="#1f77b4" stroke="#d4d4d4" stroke-width="1.6"/>
<circle cx="625.2" cy="505.3" r="5.0" fill="#1f77b4" stroke="#d4d4d4" stroke-width="1.6"/>
<circle cx="631.3" cy="500.6" r="5.0" fill="#1f77b4" stroke="#d4d4d4" stroke-width="1.6"/>
<circle cx="637.3" cy="497.7" r="5.0" fill="#1f77b4" stroke="#d4d4d4" stroke-width="1.6"/>
<circle cx="643.4" cy="500.9" r="5.0" fill="#1f77b4" stroke="#d4d4d4" stroke-width="1.6"/>
<circle cx="649.5" cy="494.2" r="5.0" fill="#1f77b4" stroke="#d4d4d4" stroke-width="1.6"/>
<circle cx="655.5" cy="499.8" r="5.0" fill="#1f77b4" stroke="#d4d4d4" stroke-width="1.6"/>
<circle cx="661.6" cy="499.8" r="5.0" fill="#1f77b4" stroke="#d4d4d4" stroke-width="1.6"/>
<circle cx="667.7" cy="493.4" r="5.0" fill="#1f77b4" stroke="#d4d4d4" stroke-width="1.6"/>
<circle cx="673.7" cy="487.9" r="5.0" fill="#1f77b4" stroke="#d4d4d4" stroke-width="1.6"/>
<circle cx="679.8" cy="493.9" r="5.0" fill="#1f77b4" stroke="#d4d4d4" stroke-width="1.6"/>
<circle cx="685.9" cy="488.9" r="5.0" fill="#1f77b4" stroke="#d4d4d4" stroke-width="1.6"/>
<circle cx="691.9" cy="486.3" r="5.0" fill="#1f77b4" stroke="#d4d4d4" stroke-width="1.6"/>
<circle cx="698" cy="488.7" r="5.0" fill="#1f77b4" stroke="#d4d4d4" stroke-width="1.6"/>
<circle cx="704.1" cy="493.4" r="5.0" fill="#1f77b4" stroke="#d4d4d4" stroke-width="1.6"/>
<circle cx="710.1" cy="495.5" r="5.0" fill="#1f77b4" stroke="#d4d4d4" stroke-width="1.6"/>
<circle cx="716.2" cy="498.2" r="5.0" fill="#1f77b4" stroke="#d4d4d4" stroke-width="1.6"/>
<circle cx="722.3" cy="495" r="5.0" fill="#1f77b4" stroke="#d4d4d4" stroke-width="1.6"/>
<circle cx="728.3" cy="489.5" r="5.0" fill="#1f77b4" stroke="#d4d4d4" stroke-width="1.6"/>
<circle cx="734.4" cy="494.7" r="5.0" fill="#1f77b4" stroke="#d4d4d4" stroke-width="1.6"/>
<circle cx="740.5" cy="498.7" r="5.0" fill="#1f77b4" stroke="#d4d4d4" stroke-width="1.6"/>
<circle cx="746.5" cy="501.4" r="5.0" fill="#1f77b4" stroke="#d4d4d4" stroke-width="1.6"/>
<circle cx="752.6" cy="503.4" r="5.0" fill="#1f77b4" stroke="#d4d4d4" stroke-width="1.6"/>
<circle cx="758.7" cy="504.5" r="5.0" fill="#1f77b4" stroke="#d4d4d4" stroke-width="1.6"/>
<circle cx="764.7" cy="501.4" r="5.0" fill="#1f77b4" stroke="#d4d4d4" stroke-width="1.6"/>
<circle cx="770.8" cy="496.6" r="5.0" fill="#1f77b4" stroke="#d4d4d4" stroke-width="1.6"/>
<circle cx="776.9" cy="502.6" r="5.0" fill="#1f77b4" stroke="#d4d4d4" stroke-width="1.6"/>
<circle cx="782.9" cy="509.7" r="5.0" fill="#1f77b4" stroke="#d4d4d4" stroke-width="1.6"/>
<circle cx="789" cy="502.5" r="5.0" fill="#1f77b4" stroke="#d4d4d4" stroke-width="1.6"/>
<circle cx="795.1" cy="512.4" r="5.0" fill="#1f77b4" stroke="#d4d4d4" stroke-width="1.6"/>
<circle cx="801.1" cy="514.5" r="5.0" fill="#1f77b4" stroke="#d4d4d4" stroke-width="1.6"/>
<circle cx="807.2" cy="508.5" r="5.0" fill="#1f77b4" stroke="#d4d4d4" stroke-width="1.6"/>
<circle cx="813.3" cy="510.8" r="5.0" fill="#1f77b4" stroke="#d4d4d4" stroke-width="1.6"/>
<circle cx="819.3" cy="509.3" r="5.0" fill="#1f77b4" stroke="#d4d4d4" stroke-width="1.6"/>
<circle cx="825.4" cy="502.1" r="5.0" fill="#1f77b4" stroke="#d4d4d4" stroke-width="1.6"/>
<circle cx="831.5" cy="507.2" r="5.0" fill="#1f77b4" stroke="#d4d4d4" stroke-width="1.6"/>
<circle cx="837.5" cy="508.2" r="5.0" fill="#1f77b4" stroke="#d4d4d4" stroke-width="1.6"/>
<circle cx="843.6" cy="505" r="5.0" fill="#1f77b4" stroke="#d4d4d4" stroke-width="1.6"/>
<circle cx="849.7" cy="508.8" r="5.0" fill="#1f77b4" stroke="#d4d4d4" stroke-width="1.6"/>
<circle cx="855.7" cy="497.9" r="5.0" fill="#1f77b4" stroke="#d4d4d4" stroke-width="1.6"/>
<circle cx="861.8" cy="510.1" r="5.0" fill="#1f77b4" stroke="#d4d4d4" stroke-width="1.6"/>
<circle cx="867.9" cy="505.3" r="5.0" fill="#1f77b4" stroke="#d4d4d4" stroke-width="1.6"/>
<circle cx="873.9" cy="510.1" r="5.0" fill="#1f77b4" stroke="#d4d4d4" stroke-width="1.6"/>
<circle cx="880" cy="508.5" r="5.0" fill="#1f77b4" stroke="#d4d4d4" stroke-width="1.6"/>
<circle cx="886.1" cy="513.2" r="5.0" fill="#1f77b4" stroke="#d4d4d4" stroke-width="1.6"/>
<circle cx="892.1" cy="514.8" r="5.0" fill="#1f77b4" stroke="#d4d4d4" stroke-width="1.6"/>
<circle cx="898.2" cy="511.6" r="5.0" fill="#1f77b4" stroke="#d4d4d4" stroke-width="1.6"/>
<circle cx="904.3" cy="510.1" r="5.0" fill="#1f77b4" stroke="#d4d4d4" stroke-width="1.6"/>
<circle cx="910.3" cy="516.1" r="5.0" fill="#1f77b4" stroke="#d4d4d4" stroke-width="1.6"/>
<circle cx="916.4" cy="514.8" r="5.0" fill="#1f77b4" stroke="#d4d4d4" stroke-width="1.6"/>
<circle cx="922.5" cy="508.8" r="5.0" fill="#1f77b4" stroke="#d4d4d4" stroke-width="1.6"/>
<circle cx="928.5" cy="514" r="5.0" fill="#1f77b4" stroke="#d4d4d4" stroke-width="1.6"/>
<circle cx="934.6" cy="517.2" r="5.0" fill="#1f77b4" stroke="#d4d4d4" stroke-width="1.6"/>
<circle cx="940.7" cy="515.6" r="5.0" fill="#1f77b4" stroke="#d4d4d4" stroke-width="1.6"/>
<circle cx="946.7" cy="517.3" r="5.0" fill="#1f77b4" stroke="#d4d4d4" stroke-width="1.6"/>
<circle cx="952.8" cy="526.5" r="5.0" fill="#1f77b4" stroke="#d4d4d4" stroke-width="1.6"/>
<circle cx="958.9" cy="521.4" r="5.0" fill="#1f77b4" stroke="#d4d4d4" stroke-width="1.6"/>
<circle cx="977.1" cy="524" r="5.0" fill="#1f77b4" stroke="#d4d4d4" stroke-width="1.6"/>
<circle cx="995.3" cy="521.4" r="5.0" fill="#1f77b4" stroke="#d4d4d4" stroke-width="1.6"/>
<circle cx="1001.3" cy="530.9" r="5.0" fill="#1f77b4" stroke="#d4d4d4" stroke-width="1.6"/>
<circle cx="1007.4" cy="523" r="5.0" fill="#1f77b4" stroke="#d4d4d4" stroke-width="1.6"/>
<circle cx="1013.5" cy="516.7" r="5.0" fill="#1f77b4" stroke="#d4d4d4" stroke-width="1.6"/>
<circle cx="1019.5" cy="527.9" r="5.0" fill="#1f77b4" stroke="#d4d4d4" stroke-width="1.6"/>
<circle cx="1025.6" cy="525.4" r="5.0" fill="#1f77b4" stroke="#d4d4d4" stroke-width="1.6"/>
<circle cx="1031.7" cy="528.6" r="5.0" fill="#1f77b4" stroke="#d4d4d4" stroke-width="1.6"/>
<circle cx="1037.7" cy="519.9" r="5.0" fill="#1f77b4" stroke="#d4d4d4" stroke-width="1.6"/>
<circle cx="1043.8" cy="529" r="5.0" fill="#1f77b4" stroke="#d4d4d4" stroke-width="1.6"/>
<circle cx="1055.9" cy="523.2" r="5.0" fill="#1f77b4" stroke="#d4d4d4" stroke-width="1.6"/>
<circle cx="1062" cy="509.7" r="5.0" fill="#1f77b4" stroke="#d4d4d4" stroke-width="1.6"/>
<circle cx="1074.1" cy="527.8" r="5.0" fill="#1f77b4" stroke="#d4d4d4" stroke-width="1.6"/>
<circle cx="1080.2" cy="531.1" r="5.0" fill="#1f77b4" stroke="#d4d4d4" stroke-width="1.6"/>
<circle cx="1086.3" cy="522.7" r="5.0" fill="#1f77b4" stroke="#d4d4d4" stroke-width="1.6"/>
<circle cx="1092.3" cy="525.6" r="5.0" fill="#1f77b4" stroke="#d4d4d4" stroke-width="1.6"/>
<circle cx="1098.4" cy="520.3" r="5.0" fill="#1f77b4" stroke="#d4d4d4" stroke-width="1.6"/>
<circle cx="1104.5" cy="522.4" r="5.0" fill="#1f77b4" stroke="#d4d4d4" stroke-width="1.6"/>
<circle cx="1110.5" cy="530.3" r="5.0" fill="#1f77b4" stroke="#d4d4d4" stroke-width="1.6"/>
<circle cx="1122.7" cy="525.6" r="5.0" fill="#1f77b4" stroke="#d4d4d4" stroke-width="1.6"/>
<circle cx="1128.7" cy="518" r="5.0" fill="#1f77b4" stroke="#d4d4d4" stroke-width="1.6"/>
<circle cx="1134.8" cy="524.3" r="5.0" fill="#1f77b4" stroke="#d4d4d4" stroke-width="1.6"/>
<circle cx="1140.9" cy="507.4" r="5.0" fill="#1f77b4" stroke="#d4d4d4" stroke-width="1.6"/>
<circle cx="1146.9" cy="529" r="5.0" fill="#1f77b4" stroke="#d4d4d4" stroke-width="1.6"/>
<circle cx="1153" cy="529.8" r="5.0" fill="#1f77b4" stroke="#d4d4d4" stroke-width="1.6"/>
<circle cx="1159.1" cy="530.6" r="5.0" fill="#1f77b4" stroke="#d4d4d4" stroke-width="1.6"/>
<circle cx="1165.1" cy="528.7" r="5.0" fill="#1f77b4" stroke="#d4d4d4" stroke-width="1.6"/>
<circle cx="1171.2" cy="525.9" r="5.0" fill="#1f77b4" stroke="#d4d4d4" stroke-width="1.6"/>
<circle cx="1177.3" cy="528.6" r="5.0" fill="#1f77b4" stroke="#d4d4d4" stroke-width="1.6"/>
<circle cx="1201.5" cy="526.4" r="5.0" fill="#1f77b4" stroke="#d4d4d4" stroke-width="1.6"/>
<circle cx="1213.7" cy="529.4" r="5.0" fill="#1f77b4" stroke="#d4d4d4" stroke-width="1.6"/>
<circle cx="1244" cy="531.4" r="5.0" fill="#1f77b4" stroke="#d4d4d4" stroke-width="1.6"/>
<circle cx="1310.7" cy="530.3" r="5.0" fill="#1f77b4" stroke="#d4d4d4" stroke-width="1.6"/>
<circle cx="1316.8" cy="531.4" r="5.0" fill="#1f77b4" stroke="#d4d4d4" stroke-width="1.6"/>
<circle cx="1322.9" cy="527.9" r="5.0" fill="#1f77b4" stroke="#d4d4d4" stroke-width="1.6"/>
<circle cx="1335" cy="528.7" r="5.0" fill="#1f77b4" stroke="#d4d4d4" stroke-width="1.6"/>
<circle cx="1341.1" cy="531.4" r="5.0" fill="#1f77b4" stroke="#d4d4d4" stroke-width="1.6"/>
<circle cx="1456.3" cy="529.9" r="5.0" fill="#1f77b4" stroke="#d4d4d4" stroke-width="1.6"/>
<circle cx="1498.8" cy="527.1" r="5.0" fill="#1f77b4" stroke="#d4d4d4" stroke-width="1.6"/>
<circle cx="1510.9" cy="531" r="5.0" fill="#1f77b4" stroke="#d4d4d4" stroke-width="1.6"/>
<text x="1552.6" y="489.9" font-size="29.2" text-anchor="start">Cued ori.</text>
<circle cx="1561.7" cy="517.6" r="7.0" fill="#1f77b4" stroke="#d9d9d9" stroke-width="1.5"/>
<text x="1580.2" y="527.6" font-size="29.2" text-anchor="start">BF &gt; 10</text>
<circle cx="1561.7" cy="548" r="7.0" fill="#ffffff" stroke="#c4c4c4" stroke-width="1.5"/>
<text x="1580.2" y="558.4" font-size="29.2" text-anchor="start">1/10 &lt; BF &lt; 10</text>
<circle cx="1561.7" cy="578.2" r="7.0" fill="#b5b5b5" stroke="#d6d6d6" stroke-width="1.5"/>
<text x="1580.2" y="588.7" font-size="29.2" text-anchor="start">BF &lt; 1/10</text>
<line x1="152" y1="711.8" x2="1510.9" y2="711.8" stroke="#000" stroke-width="2.9" stroke-linecap="butt"/>
<line x1="303.7" y1="658" x2="303.7" y2="765.6" stroke="#000" stroke-width="2.9" stroke-linecap="butt"/>
<line x1="152" y1="656.7" x2="152" y2="766.9" stroke="#000" stroke-width="2.55" stroke-linecap="butt"/>
<line x1="152" y1="658" x2="160.8" y2="658" stroke="#000" stroke-width="2.55" stroke-linecap="butt"/>
<line x1="152" y1="665.7" x2="160.8" y2="665.7" stroke="#000" stroke-width="2.55" stroke-linecap="butt"/>
<line x1="152" y1="673.4" x2="167" y2="673.4" stroke="#000" stroke-width="2.55" stroke-linecap="butt"/>
<line x1="152" y1="681.1" x2="160.8" y2="681.1" stroke="#000" stroke-width="2.55" stroke-linecap="butt"/>
<line x1="152" y1="688.7" x2="160.8" y2="688.7" stroke="#000" stroke-width="2.55" stroke-linecap="butt"/>
<line x1="152" y1="696.4" x2="160.8" y2="696.4" stroke="#000" stroke-width="2.55" stroke-linecap="butt"/>
<line x1="152" y1="704.1" x2="160.8" y2="704.1" stroke="#000" stroke-width="2.55" stroke-linecap="butt"/>
<line x1="152" y1="719.5" x2="160.8" y2="719.5" stroke="#000" stroke-width="2.55" stroke-linecap="butt"/>
<line x1="152" y1="727.2" x2="160.8" y2="727.2" stroke="#000" stroke-width="2.55" stroke-linecap="butt"/>
<line x1="152" y1="734.9" x2="160.8" y2="734.9" stroke="#000" stroke-width="2.55" stroke-linecap="butt"/>
<line x1="152" y1="742.5" x2="160.8" y2="742.5" stroke="#000" stroke-width="2.55" stroke-linecap="butt"/>
<line x1="152" y1="750.2" x2="167" y2="750.2" stroke="#000" stroke-width="2.55" stroke-linecap="butt"/>
<line x1="152" y1="757.9" x2="160.8" y2="757.9" stroke="#000" stroke-width="2.55" stroke-linecap="butt"/>
<text x="127.3" y="690.7" font-size="32.2" text-anchor="end">10</text>
<text x="127.5" y="674.9" font-size="25.8" text-anchor="start">5</text>
<text x="117.1" y="767.5" font-size="32.2" text-anchor="end">10</text>
<text x="117.8" y="751.7" font-size="25.8" text-anchor="start">-5</text>
<text x="137.3" y="724" font-size="32.2" text-anchor="end">1</text>
<line x1="150.7" y1="765.6" x2="1518.3" y2="765.6" stroke="#000" stroke-width="2.55" stroke-linecap="butt"/>
<text x="152" y="807.5" font-size="32.2" text-anchor="middle">-100</text>
<line x1="303.7" y1="765.6" x2="303.7" y2="750.8" stroke="#000" stroke-width="2.55" stroke-linecap="butt"/>
<text x="303.7" y="807.5" font-size="32.2" text-anchor="middle">0</text>
<line x1="455.3" y1="765.6" x2="455.3" y2="750.8" stroke="#000" stroke-width="2.55" stroke-linecap="butt"/>
<text x="455.3" y="807.5" font-size="32.2" text-anchor="middle">100</text>
<line x1="607" y1="765.6" x2="607" y2="750.8" stroke="#000" stroke-width="2.55" stroke-linecap="butt"/>
<text x="607" y="807.5" font-size="32.2" text-anchor="middle">200</text>
<line x1="758.7" y1="765.6" x2="758.7" y2="750.8" stroke="#000" stroke-width="2.55" stroke-linecap="butt"/>
<text x="758.7" y="807.5" font-size="32.2" text-anchor="middle">300</text>
<line x1="910.3" y1="765.6" x2="910.3" y2="750.8" stroke="#000" stroke-width="2.55" stroke-linecap="butt"/>
<text x="910.3" y="807.5" font-size="32.2" text-anchor="middle">400</text>
<line x1="1062" y1="765.6" x2="1062" y2="750.8" stroke="#000" stroke-width="2.55" stroke-linecap="butt"/>
<text x="1062" y="807.5" font-size="32.2" text-anchor="middle">500</text>
<line x1="1213.7" y1="765.6" x2="1213.7" y2="750.8" stroke="#000" stroke-width="2.55" stroke-linecap="butt"/>
<text x="1213.7" y="807.5" font-size="32.2" text-anchor="middle">600</text>
<line x1="1365.3" y1="765.6" x2="1365.3" y2="750.8" stroke="#000" stroke-width="2.55" stroke-linecap="butt"/>
<text x="1365.3" y="807.5" font-size="32.2" text-anchor="middle">700</text>
<line x1="1517" y1="765.6" x2="1517" y2="750.8" stroke="#000" stroke-width="2.55" stroke-linecap="butt"/>
<text x="1517" y="807.5" font-size="32.2" text-anchor="middle">800</text>
<circle cx="152" cy="726.7" r="5.0" fill="#b3b3b3" stroke="#d2d2d2" stroke-width="1.6"/>
<circle cx="158.1" cy="720" r="5.0" fill="#b3b3b3" stroke="#d2d2d2" stroke-width="1.6"/>
<circle cx="164.1" cy="722.4" r="5.0" fill="#b3b3b3" stroke="#d2d2d2" stroke-width="1.6"/>
<circle cx="176.3" cy="723.5" r="5.0" fill="#b3b3b3" stroke="#d2d2d2" stroke-width="1.6"/>
<circle cx="182.3" cy="725.1" r="5.0" fill="#b3b3b3" stroke="#d2d2d2" stroke-width="1.6"/>
<circle cx="188.4" cy="725.6" r="5.0" fill="#b3b3b3" stroke="#d2d2d2" stroke-width="1.6"/>
<circle cx="218.7" cy="726" r="5.0" fill="#b3b3b3" stroke="#d2d2d2" stroke-width="1.6"/>
<circle cx="230.9" cy="730" r="5.0" fill="#b3b3b3" stroke="#d2d2d2" stroke-width="1.6"/>
<circle cx="236.9" cy="736.3" r="5.0" fill="#b3b3b3" stroke="#d2d2d2" stroke-width="1.6"/>
<circle cx="243" cy="725.6" r="5.0" fill="#b3b3b3" stroke="#d2d2d2" stroke-width="1.6"/>
<circle cx="249.1" cy="733.9" r="5.0" fill="#b3b3b3" stroke="#d2d2d2" stroke-width="1.6"/>
<circle cx="255.1" cy="721.9" r="5.0" fill="#b3b3b3" stroke="#d2d2d2" stroke-width="1.6"/>
<circle cx="267.3" cy="725.1" r="5.0" fill="#b3b3b3" stroke="#d2d2d2" stroke-width="1.6"/>
<circle cx="279.4" cy="726.4" r="5.0" fill="#b3b3b3" stroke="#d2d2d2" stroke-width="1.6"/>
<circle cx="285.5" cy="727.1" r="5.0" fill="#b3b3b3" stroke="#d2d2d2" stroke-width="1.6"/>
<circle cx="291.5" cy="723.5" r="5.0" fill="#b3b3b3" stroke="#d2d2d2" stroke-width="1.6"/>
<circle cx="297.6" cy="724.8" r="5.0" fill="#b3b3b3" stroke="#d2d2d2" stroke-width="1.6"/>
<circle cx="303.7" cy="734.3" r="5.0" fill="#b3b3b3" stroke="#d2d2d2" stroke-width="1.6"/>
<circle cx="309.7" cy="734.3" r="5.0" fill="#b3b3b3" stroke="#d2d2d2" stroke-width="1.6"/>
<circle cx="315.8" cy="737.7" r="5.0" fill="#b3b3b3" stroke="#d2d2d2" stroke-width="1.6"/>
<circle cx="321.9" cy="735.8" r="5.0" fill="#b3b3b3" stroke="#d2d2d2" stroke-width="1.6"/>
<circle cx="327.9" cy="734.3" r="5.0" fill="#b3b3b3" stroke="#d2d2d2" stroke-width="1.6"/>
<circle cx="334" cy="729.5" r="5.0" fill="#b3b3b3" stroke="#d2d2d2" stroke-width="1.6"/>
<circle cx="340.1" cy="731.1" r="5.0" fill="#b3b3b3" stroke="#d2d2d2" stroke-width="1.6"/>
<circle cx="346.1" cy="719.6" r="5.0" fill="#b3b3b3" stroke="#d2d2d2" stroke-width="1.6"/>
<circle cx="352.2" cy="733.2" r="5.0" fill="#b3b3b3" stroke="#d2d2d2" stroke-width="1.6"/>
<circle cx="358.3" cy="732.4" r="5.0" fill="#b3b3b3" stroke="#d2d2d2" stroke-width="1.6"/>
<circle cx="364.3" cy="734.3" r="5.0" fill="#b3b3b3" stroke="#d2d2d2" stroke-width="1.6"/>
<circle cx="370.4" cy="733.8" r="5.0" fill="#b3b3b3" stroke="#d2d2d2" stroke-width="1.6"/>
<circle cx="382.5" cy="725.6" r="5.0" fill="#b3b3b3" stroke="#d2d2d2" stroke-width="1.6"/>
<circle cx="388.6" cy="736.6" r="5.0" fill="#b3b3b3" stroke="#d2d2d2" stroke-width="1.6"/>
<circle cx="400.7" cy="737.9" r="5.0" fill="#b3b3b3" stroke="#d2d2d2" stroke-width="1.6"/>
<circle cx="406.8" cy="739.8" r="5.0" fill="#b3b3b3" stroke="#d2d2d2" stroke-width="1.6"/>
<circle cx="412.9" cy="720" r="5.0" fill="#b3b3b3" stroke="#d2d2d2" stroke-width="1.6"/>
<circle cx="886.1" cy="719.7" r="5.0" fill="#b3b3b3" stroke="#d2d2d2" stroke-width="1.6"/>
<circle cx="971" cy="726.7" r="5.0" fill="#b3b3b3" stroke="#d2d2d2" stroke-width="1.6"/>
<circle cx="977.1" cy="725.9" r="5.0" fill="#b3b3b3" stroke="#d2d2d2" stroke-width="1.6"/>
<circle cx="989.2" cy="727.1" r="5.0" fill="#b3b3b3" stroke="#d2d2d2" stroke-width="1.6"/>
<circle cx="995.3" cy="730.8" r="5.0" fill="#b3b3b3" stroke="#d2d2d2" stroke-width="1.6"/>
<circle cx="1007.4" cy="723.5" r="5.0" fill="#b3b3b3" stroke="#d2d2d2" stroke-width="1.6"/>
<circle cx="1025.6" cy="727.1" r="5.0" fill="#b3b3b3" stroke="#d2d2d2" stroke-width="1.6"/>
<circle cx="1031.7" cy="720" r="5.0" fill="#b3b3b3" stroke="#d2d2d2" stroke-width="1.6"/>
<circle cx="1128.7" cy="721.6" r="5.0" fill="#b3b3b3" stroke="#d2d2d2" stroke-width="1.6"/>
<circle cx="1146.9" cy="721.1" r="5.0" fill="#b3b3b3" stroke="#d2d2d2" stroke-width="1.6"/>
<circle cx="1171.2" cy="726.8" r="5.0" fill="#b3b3b3" stroke="#d2d2d2" stroke-width="1.6"/>
<circle cx="1177.3" cy="731.1" r="5.0" fill="#b3b3b3" stroke="#d2d2d2" stroke-width="1.6"/>
<circle cx="1183.3" cy="722.4" r="5.0" fill="#b3b3b3" stroke="#d2d2d2" stroke-width="1.6"/>
<circle cx="1189.4" cy="726" r="5.0" fill="#b3b3b3" stroke="#d2d2d2" stroke-width="1.6"/>
<circle cx="1195.5" cy="735.4" r="5.0" fill="#b3b3b3" stroke="#d2d2d2" stroke-width="1.6"/>
<circle cx="1213.7" cy="724" r="5.0" fill="#b3b3b3" stroke="#d2d2d2" stroke-width="1.6"/>
<circle cx="1219.7" cy="724.8" r="5.0" fill="#b3b3b3" stroke="#d2d2d2" stroke-width="1.6"/>
<circle cx="1225.8" cy="724" r="5.0" fill="#b3b3b3" stroke="#d2d2d2" stroke-width="1.6"/>
<circle cx="1231.9" cy="724.8" r="5.0" fill="#b3b3b3" stroke="#d2d2d2" stroke-width="1.6"/>
<circle cx="1237.9" cy="727.6" r="5.0" fill="#b3b3b3" stroke="#d2d2d2" stroke-width="1.6"/>
<circle cx="1244" cy="727.9" r="5.0" fill="#b3b3b3" stroke="#d2d2d2" stroke-width="1.6"/>
<circle cx="1250.1" cy="724.5" r="5.0" fill="#b3b3b3" stroke="#d2d2d2" stroke-width="1.6"/>
<circle cx="1262.2" cy="724.5" r="5.0" fill="#b3b3b3" stroke="#d2d2d2" stroke-width="1.6"/>
<circle cx="1268.3" cy="732.4" r="5.0" fill="#b3b3b3" stroke="#d2d2d2" stroke-width="1.6"/>
<circle cx="1280.4" cy="723.5" r="5.0" fill="#b3b3b3" stroke="#d2d2d2" stroke-width="1.6"/>
<circle cx="1359.3" cy="720.5" r="5.0" fill="#b3b3b3" stroke="#d2d2d2" stroke-width="1.6"/>
<circle cx="1383.5" cy="722.1" r="5.0" fill="#b3b3b3" stroke="#d2d2d2" stroke-width="1.6"/>
<circle cx="1395.7" cy="722.9" r="5.0" fill="#b3b3b3" stroke="#d2d2d2" stroke-width="1.6"/>
<circle cx="1401.7" cy="732.5" r="5.0" fill="#b3b3b3" stroke="#d2d2d2" stroke-width="1.6"/>
<circle cx="1407.8" cy="722.8" r="5.0" fill="#b3b3b3" stroke="#d2d2d2" stroke-width="1.6"/>
<circle cx="1419.9" cy="726" r="5.0" fill="#b3b3b3" stroke="#d2d2d2" stroke-width="1.6"/>
<circle cx="1426" cy="720.2" r="5.0" fill="#b3b3b3" stroke="#d2d2d2" stroke-width="1.6"/>
<circle cx="1444.2" cy="727.8" r="5.0" fill="#b3b3b3" stroke="#d2d2d2" stroke-width="1.6"/>
<circle cx="1450.3" cy="719.8" r="5.0" fill="#b3b3b3" stroke="#d2d2d2" stroke-width="1.6"/>
<circle cx="1456.3" cy="733.3" r="5.0" fill="#b3b3b3" stroke="#d2d2d2" stroke-width="1.6"/>
<circle cx="1468.5" cy="721.8" r="5.0" fill="#b3b3b3" stroke="#d2d2d2" stroke-width="1.6"/>
<circle cx="1474.5" cy="735.5" r="5.0" fill="#b3b3b3" stroke="#d2d2d2" stroke-width="1.6"/>
<circle cx="1480.6" cy="728.6" r="5.0" fill="#b3b3b3" stroke="#d2d2d2" stroke-width="1.6"/>
<circle cx="1486.7" cy="720.6" r="5.0" fill="#b3b3b3" stroke="#d2d2d2" stroke-width="1.6"/>
<circle cx="1492.7" cy="725.2" r="5.0" fill="#b3b3b3" stroke="#d2d2d2" stroke-width="1.6"/>
<circle cx="1504.9" cy="729.1" r="5.0" fill="#b3b3b3" stroke="#d2d2d2" stroke-width="1.6"/>
<circle cx="170.2" cy="718.4" r="5.0" fill="#ffffff" stroke="#c4c4c4" stroke-width="1.6"/>
<circle cx="194.5" cy="718.9" r="5.0" fill="#ffffff" stroke="#c4c4c4" stroke-width="1.6"/>
<circle cx="206.6" cy="706.9" r="5.0" fill="#ffffff" stroke="#c4c4c4" stroke-width="1.6"/>
<circle cx="212.7" cy="714.8" r="5.0" fill="#ffffff" stroke="#c4c4c4" stroke-width="1.6"/>
<circle cx="224.8" cy="708.6" r="5.0" fill="#ffffff" stroke="#c4c4c4" stroke-width="1.6"/>
<circle cx="261.2" cy="705" r="5.0" fill="#ffffff" stroke="#c4c4c4" stroke-width="1.6"/>
<circle cx="273.3" cy="717.3" r="5.0" fill="#ffffff" stroke="#c4c4c4" stroke-width="1.6"/>
<circle cx="376.5" cy="718.4" r="5.0" fill="#ffffff" stroke="#c4c4c4" stroke-width="1.6"/>
<circle cx="394.7" cy="718.4" r="5.0" fill="#ffffff" stroke="#c4c4c4" stroke-width="1.6"/>
<circle cx="825.4" cy="705" r="5.0" fill="#ffffff" stroke="#c4c4c4" stroke-width="1.6"/>
<circle cx="849.7" cy="705.8" r="5.0" fill="#ffffff" stroke="#c4c4c4" stroke-width="1.6"/>
<circle cx="904.3" cy="707.7" r="5.0" fill="#ffffff" stroke="#c4c4c4" stroke-width="1.6"/>
<circle cx="934.6" cy="715.3" r="5.0" fill="#ffffff" stroke="#c4c4c4" stroke-width="1.6"/>
<circle cx="940.7" cy="716.5" r="5.0" fill="#ffffff" stroke="#c4c4c4" stroke-width="1.6"/>
<circle cx="946.7" cy="717.7" r="5.0" fill="#ffffff" stroke="#c4c4c4" stroke-width="1.6"/>
<circle cx="952.8" cy="717" r="5.0" fill="#ffffff" stroke="#c4c4c4" stroke-width="1.6"/>
<circle cx="958.9" cy="705" r="5.0" fill="#ffffff" stroke="#c4c4c4" stroke-width="1.6"/>
<circle cx="964.9" cy="717.7" r="5.0" fill="#ffffff" stroke="#c4c4c4" stroke-width="1.6"/>
<circle cx="983.1" cy="713.4" r="5.0" fill="#ffffff" stroke="#c4c4c4" stroke-width="1.6"/>
<circle cx="1001.3" cy="715" r="5.0" fill="#ffffff" stroke="#c4c4c4" stroke-width="1.6"/>
<circle cx="1013.5" cy="709.7" r="5.0" fill="#ffffff" stroke="#c4c4c4" stroke-width="1.6"/>
<circle cx="1019.5" cy="716.9" r="5.0" fill="#ffffff" stroke="#c4c4c4" stroke-width="1.6"/>
<circle cx="1037.7" cy="717.2" r="5.0" fill="#ffffff" stroke="#c4c4c4" stroke-width="1.6"/>
<circle cx="1043.8" cy="704.5" r="5.0" fill="#ffffff" stroke="#c4c4c4" stroke-width="1.6"/>
<circle cx="1049.9" cy="709.7" r="5.0" fill="#ffffff" stroke="#c4c4c4" stroke-width="1.6"/>
<circle cx="1055.9" cy="714.5" r="5.0" fill="#ffffff" stroke="#c4c4c4" stroke-width="1.6"/>
<circle cx="1062" cy="714.5" r="5.0" fill="#ffffff" stroke="#c4c4c4" stroke-width="1.6"/>
<circle cx="1068.1" cy="706.6" r="5.0" fill="#ffffff" stroke="#c4c4c4" stroke-width="1.6"/>
<circle cx="1074.1" cy="717.3" r="5.0" fill="#ffffff" stroke="#c4c4c4" stroke-width="1.6"/>
<circle cx="1080.2" cy="719.2" r="5.0" fill="#ffffff" stroke="#c4c4c4" stroke-width="1.6"/>
<circle cx="1086.3" cy="717.3" r="5.0" fill="#ffffff" stroke="#c4c4c4" stroke-width="1.6"/>
<circle cx="1092.3" cy="707.4" r="5.0" fill="#ffffff" stroke="#c4c4c4" stroke-width="1.6"/>
<circle cx="1098.4" cy="714" r="5.0" fill="#ffffff" stroke="#c4c4c4" stroke-width="1.6"/>
<circle cx="1110.5" cy="706.3" r="5.0" fill="#ffffff" stroke="#c4c4c4" stroke-width="1.6"/>
<circle cx="1116.6" cy="719.7" r="5.0" fill="#ffffff" stroke="#c4c4c4" stroke-width="1.6"/>
<circle cx="1122.7" cy="719.7" r="5.0" fill="#ffffff" stroke="#c4c4c4" stroke-width="1.6"/>
<circle cx="1134.8" cy="717.2" r="5.0" fill="#ffffff" stroke="#c4c4c4" stroke-width="1.6"/>
<circle cx="1140.9" cy="717.2" r="5.0" fill="#ffffff" stroke="#c4c4c4" stroke-width="1.6"/>
<circle cx="1153" cy="712.9" r="5.0" fill="#ffffff" stroke="#c4c4c4" stroke-width="1.6"/>
<circle cx="1159.1" cy="703.9" r="5.0" fill="#ffffff" stroke="#c4c4c4" stroke-width="1.6"/>
<circle cx="1165.1" cy="707.4" r="5.0" fill="#ffffff" stroke="#c4c4c4" stroke-width="1.6"/>
<circle cx="1201.5" cy="716.1" r="5.0" fill="#ffffff" stroke="#c4c4c4" stroke-width="1.6"/>
<circle cx="1207.6" cy="718.4" r="5.0" fill="#ffffff" stroke="#c4c4c4" stroke-width="1.6"/>
<circle cx="1256.1" cy="718.4" r="5.0" fill="#ffffff" stroke="#c4c4c4" stroke-width="1.6"/>
<circle cx="1274.3" cy="717.2" r="5.0" fill="#ffffff" stroke="#c4c4c4" stroke-width="1.6"/>
<circle cx="1286.5" cy="719.7" r="5.0" fill="#ffffff" stroke="#c4c4c4" stroke-width="1.6"/>
<circle cx="1292.5" cy="712.4" r="5.0" fill="#ffffff" stroke="#c4c4c4" stroke-width="1.6"/>
<circle cx="1298.6" cy="716.9" r="5.0" fill="#ffffff" stroke="#c4c4c4" stroke-width="1.6"/>
<circle cx="1304.7" cy="708.2" r="5.0" fill="#ffffff" stroke="#c4c4c4" stroke-width="1.6"/>
<circle cx="1316.8" cy="718.4" r="5.0" fill="#ffffff" stroke="#c4c4c4" stroke-width="1.6"/>
<circle cx="1322.9" cy="715" r="5.0" fill="#ffffff" stroke="#c4c4c4" stroke-width="1.6"/>
<circle cx="1328.9" cy="711.8" r="5.0" fill="#ffffff" stroke="#c4c4c4" stroke-width="1.6"/>
<circle cx="1335" cy="717.2" r="5.0" fill="#ffffff" stroke="#c4c4c4" stroke-width="1.6"/>
<circle cx="1341.1" cy="717.7" r="5.0" fill="#ffffff" stroke="#c4c4c4" stroke-width="1.6"/>
<circle cx="1347.1" cy="717.2" r="5.0" fill="#ffffff" stroke="#c4c4c4" stroke-width="1.6"/>
<circle cx="1353.2" cy="710.5" r="5.0" fill="#ffffff" stroke="#c4c4c4" stroke-width="1.6"/>
<circle cx="1371.4" cy="707.7" r="5.0" fill="#ffffff" stroke="#c4c4c4" stroke-width="1.6"/>
<circle cx="1377.5" cy="711.8" r="5.0" fill="#ffffff" stroke="#c4c4c4" stroke-width="1.6"/>
<circle cx="1389.6" cy="717.7" r="5.0" fill="#ffffff" stroke="#c4c4c4" stroke-width="1.6"/>
<circle cx="1413.9" cy="715.3" r="5.0" fill="#ffffff" stroke="#c4c4c4" stroke-width="1.6"/>
<circle cx="1432.1" cy="719.2" r="5.0" fill="#ffffff" stroke="#c4c4c4" stroke-width="1.6"/>
<circle cx="1438.1" cy="716.3" r="5.0" fill="#ffffff" stroke="#c4c4c4" stroke-width="1.6"/>
<circle cx="1462.4" cy="713.1" r="5.0" fill="#ffffff" stroke="#c4c4c4" stroke-width="1.6"/>
<circle cx="1498.8" cy="718.4" r="5.0" fill="#ffffff" stroke="#c4c4c4" stroke-width="1.6"/>
<circle cx="1510.9" cy="717.6" r="5.0" fill="#ffffff" stroke="#c4c4c4" stroke-width="1.6"/>
<circle cx="200.5" cy="694.7" r="5.0" fill="#b5de2b" stroke="#d4d4d4" stroke-width="1.6"/>
<circle cx="418.9" cy="698.7" r="5.0" fill="#b5de2b" stroke="#d4d4d4" stroke-width="1.6"/>
<circle cx="425" cy="691.9" r="5.0" fill="#b5de2b" stroke="#d4d4d4" stroke-width="1.6"/>
<circle cx="431.1" cy="694.7" r="5.0" fill="#b5de2b" stroke="#d4d4d4" stroke-width="1.6"/>
<circle cx="437.1" cy="682.1" r="5.0" fill="#b5de2b" stroke="#d4d4d4" stroke-width="1.6"/>
<circle cx="443.2" cy="687.1" r="5.0" fill="#b5de2b" stroke="#d4d4d4" stroke-width="1.6"/>
<circle cx="449.3" cy="690" r="5.0" fill="#b5de2b" stroke="#d4d4d4" stroke-width="1.6"/>
<circle cx="455.3" cy="689.2" r="5.0" fill="#b5de2b" stroke="#d4d4d4" stroke-width="1.6"/>
<circle cx="461.4" cy="684.9" r="5.0" fill="#b5de2b" stroke="#d4d4d4" stroke-width="1.6"/>
<circle cx="467.5" cy="686" r="5.0" fill="#b5de2b" stroke="#d4d4d4" stroke-width="1.6"/>
<circle cx="473.5" cy="690.4" r="5.0" fill="#b5de2b" stroke="#d4d4d4" stroke-width="1.6"/>
<circle cx="479.6" cy="690.8" r="5.0" fill="#b5de2b" stroke="#d4d4d4" stroke-width="1.6"/>
<circle cx="485.7" cy="689.2" r="5.0" fill="#b5de2b" stroke="#d4d4d4" stroke-width="1.6"/>
<circle cx="491.7" cy="690.4" r="5.0" fill="#b5de2b" stroke="#d4d4d4" stroke-width="1.6"/>
<circle cx="497.8" cy="694.7" r="5.0" fill="#b5de2b" stroke="#d4d4d4" stroke-width="1.6"/>
<circle cx="503.9" cy="690.4" r="5.0" fill="#b5de2b" stroke="#d4d4d4" stroke-width="1.6"/>
<circle cx="509.9" cy="682.8" r="5.0" fill="#b5de2b" stroke="#d4d4d4" stroke-width="1.6"/>
<circle cx="516" cy="693.6" r="5.0" fill="#b5de2b" stroke="#d4d4d4" stroke-width="1.6"/>
<circle cx="522.1" cy="679.7" r="5.0" fill="#b5de2b" stroke="#d4d4d4" stroke-width="1.6"/>
<circle cx="528.1" cy="686.3" r="5.0" fill="#b5de2b" stroke="#d4d4d4" stroke-width="1.6"/>
<circle cx="534.2" cy="680.2" r="5.0" fill="#b5de2b" stroke="#d4d4d4" stroke-width="1.6"/>
<circle cx="540.3" cy="677.8" r="5.0" fill="#b5de2b" stroke="#d4d4d4" stroke-width="1.6"/>
<circle cx="546.3" cy="686" r="5.0" fill="#b5de2b" stroke="#d4d4d4" stroke-width="1.6"/>
<circle cx="552.4" cy="684.1" r="5.0" fill="#b5de2b" stroke="#d4d4d4" stroke-width="1.6"/>
<circle cx="558.5" cy="685.7" r="5.0" fill="#b5de2b" stroke="#d4d4d4" stroke-width="1.6"/>
<circle cx="564.5" cy="671" r="5.0" fill="#b5de2b" stroke="#d4d4d4" stroke-width="1.6"/>
<circle cx="570.6" cy="682.1" r="5.0" fill="#b5de2b" stroke="#d4d4d4" stroke-width="1.6"/>
<circle cx="576.7" cy="678.1" r="5.0" fill="#b5de2b" stroke="#d4d4d4" stroke-width="1.6"/>
<circle cx="582.7" cy="680.5" r="5.0" fill="#b5de2b" stroke="#d4d4d4" stroke-width="1.6"/>
<circle cx="588.8" cy="692.3" r="5.0" fill="#b5de2b" stroke="#d4d4d4" stroke-width="1.6"/>
<circle cx="594.9" cy="698.4" r="5.0" fill="#b5de2b" stroke="#d4d4d4" stroke-width="1.6"/>
<circle cx="600.9" cy="687.6" r="5.0" fill="#b5de2b" stroke="#d4d4d4" stroke-width="1.6"/>
<circle cx="607" cy="672.2" r="5.0" fill="#b5de2b" stroke="#d4d4d4" stroke-width="1.6"/>
<circle cx="613.1" cy="682.8" r="5.0" fill="#b5de2b" stroke="#d4d4d4" stroke-width="1.6"/>
<circle cx="619.1" cy="678.1" r="5.0" fill="#b5de2b" stroke="#d4d4d4" stroke-width="1.6"/>
<circle cx="625.2" cy="683.6" r="5.0" fill="#b5de2b" stroke="#d4d4d4" stroke-width="1.6"/>
<circle cx="631.3" cy="680.2" r="5.0" fill="#b5de2b" stroke="#d4d4d4" stroke-width="1.6"/>
<circle cx="637.3" cy="684.4" r="5.0" fill="#b5de2b" stroke="#d4d4d4" stroke-width="1.6"/>
<circle cx="643.4" cy="685.7" r="5.0" fill="#b5de2b" stroke="#d4d4d4" stroke-width="1.6"/>
<circle cx="649.5" cy="675.4" r="5.0" fill="#b5de2b" stroke="#d4d4d4" stroke-width="1.6"/>
<circle cx="655.5" cy="682.1" r="5.0" fill="#b5de2b" stroke="#d4d4d4" stroke-width="1.6"/>
<circle cx="661.6" cy="676.5" r="5.0" fill="#b5de2b" stroke="#d4d4d4" stroke-width="1.6"/>
<circle cx="667.7" cy="677.3" r="5.0" fill="#b5de2b" stroke="#d4d4d4" stroke-width="1.6"/>
<circle cx="673.7" cy="681.3" r="5.0" fill="#b5de2b" stroke="#d4d4d4" stroke-width="1.6"/>
<circle cx="679.8" cy="670.2" r="5.0" fill="#b5de2b" stroke="#d4d4d4" stroke-width="1.6"/>
<circle cx="685.9" cy="669.7" r="5.0" fill="#b5de2b" stroke="#d4d4d4" stroke-width="1.6"/>
<circle cx="691.9" cy="667.5" r="5.0" fill="#b5de2b" stroke="#d4d4d4" stroke-width="1.6"/>
<circle cx="698" cy="674.9" r="5.0" fill="#b5de2b" stroke="#d4d4d4" stroke-width="1.6"/>
<circle cx="704.1" cy="682.8" r="5.0" fill="#b5de2b" stroke="#d4d4d4" stroke-width="1.6"/>
<circle cx="710.1" cy="688.4" r="5.0" fill="#b5de2b" stroke="#d4d4d4" stroke-width="1.6"/>
<circle cx="716.2" cy="690.8" r="5.0" fill="#b5de2b" stroke="#d4d4d4" stroke-width="1.6"/>
<circle cx="722.3" cy="693.9" r="5.0" fill="#b5de2b" stroke="#d4d4d4" stroke-width="1.6"/>
<circle cx="728.3" cy="696.8" r="5.0" fill="#b5de2b" stroke="#d4d4d4" stroke-width="1.6"/>
<circle cx="734.4" cy="696" r="5.0" fill="#b5de2b" stroke="#d4d4d4" stroke-width="1.6"/>
<circle cx="740.5" cy="690" r="5.0" fill="#b5de2b" stroke="#d4d4d4" stroke-width="1.6"/>
<circle cx="746.5" cy="693.9" r="5.0" fill="#b5de2b" stroke="#d4d4d4" stroke-width="1.6"/>
<circle cx="752.6" cy="693.1" r="5.0" fill="#b5de2b" stroke="#d4d4d4" stroke-width="1.6"/>
<circle cx="758.7" cy="699" r="5.0" fill="#b5de2b" stroke="#d4d4d4" stroke-width="1.6"/>
<circle cx="764.7" cy="693.9" r="5.0" fill="#b5de2b" stroke="#d4d4d4" stroke-width="1.6"/>
<circle cx="770.8" cy="690.8" r="5.0" fill="#b5de2b" stroke="#d4d4d4" stroke-width="1.6"/>
<circle cx="776.9" cy="693.9" r="5.0" fill="#b5de2b" stroke="#d4d4d4" stroke-width="1.6"/>
<circle cx="782.9" cy="689.5" r="5.0" fill="#b5de2b" stroke="#d4d4d4" stroke-width="1.6"/>
<circle cx="789" cy="699.5" r="5.0" fill="#b5de2b" stroke="#d4d4d4" stroke-width="1.6"/>
<circle cx="795.1" cy="692.8" r="5.0" fill="#b5de2b" stroke="#d4d4d4" stroke-width="1.6"/>
<circle cx="801.1" cy="692.8" r="5.0" fill="#b5de2b" stroke="#d4d4d4" stroke-width="1.6"/>
<circle cx="807.2" cy="682.5" r="5.0" fill="#b5de2b" stroke="#d4d4d4" stroke-width="1.6"/>
<circle cx="813.3" cy="691.9" r="5.0" fill="#b5de2b" stroke="#d4d4d4" stroke-width="1.6"/>
<circle cx="819.3" cy="695" r="5.0" fill="#b5de2b" stroke="#d4d4d4" stroke-width="1.6"/>
<circle cx="831.5" cy="690.4" r="5.0" fill="#b5de2b" stroke="#d4d4d4" stroke-width="1.6"/>
<circle cx="837.5" cy="686" r="5.0" fill="#b5de2b" stroke="#d4d4d4" stroke-width="1.6"/>
<circle cx="843.6" cy="693.9" r="5.0" fill="#b5de2b" stroke="#d4d4d4" stroke-width="1.6"/>
<circle cx="855.7" cy="694.7" r="5.0" fill="#b5de2b" stroke="#d4d4d4" stroke-width="1.6"/>
<circle cx="861.8" cy="691.2" r="5.0" fill="#b5de2b" stroke="#d4d4d4" stroke-width="1.6"/>
<circle cx="867.9" cy="694.7" r="5.0" fill="#b5de2b" stroke="#d4d4d4" stroke-width="1.6"/>
<circle cx="873.9" cy="701.8" r="5.0" fill="#b5de2b" stroke="#d4d4d4" stroke-width="1.6"/>
<circle cx="880" cy="701" r="5.0" fill="#b5de2b" stroke="#d4d4d4" stroke-width="1.6"/>
<circle cx="892.1" cy="697.1" r="5.0" fill="#b5de2b" stroke="#d4d4d4" stroke-width="1.6"/>
<circle cx="898.2" cy="703.4" r="5.0" fill="#b5de2b" stroke="#d4d4d4" stroke-width="1.6"/>
<circle cx="910.3" cy="703.9" r="5.0" fill="#b5de2b" stroke="#d4d4d4" stroke-width="1.6"/>
<circle cx="916.4" cy="704.5" r="5.0" fill="#b5de2b" stroke="#d4d4d4" stroke-width="1.6"/>
<circle cx="922.5" cy="693.9" r="5.0" fill="#b5de2b" stroke="#d4d4d4" stroke-width="1.6"/>
<circle cx="928.5" cy="701.4" r="5.0" fill="#b5de2b" stroke="#d4d4d4" stroke-width="1.6"/>
<circle cx="1104.5" cy="699.1" r="5.0" fill="#b5de2b" stroke="#d4d4d4" stroke-width="1.6"/>
<circle cx="1310.7" cy="696.8" r="5.0" fill="#b5de2b" stroke="#d4d4d4" stroke-width="1.6"/>
<circle cx="1365.3" cy="695.5" r="5.0" fill="#b5de2b" stroke="#d4d4d4" stroke-width="1.6"/>
<text x="1552.6" y="662.3" font-size="29.2" text-anchor="start">Uncued ori.</text>
<circle cx="1561.7" cy="690" r="7.0" fill="#b5de2b" stroke="#d9d9d9" stroke-width="1.5"/>
<text x="1580.2" y="700" font-size="29.2" text-anchor="start">BF &gt; 10</text>
<circle cx="1561.7" cy="720.4" r="7.0" fill="#ffffff" stroke="#c4c4c4" stroke-width="1.5"/>
<text x="1580.2" y="730.8" font-size="29.2" text-anchor="start">1/10 &lt; BF &lt; 10</text>
<circle cx="1561.7" cy="750.6" r="7.0" fill="#b5b5b5" stroke="#d6d6d6" stroke-width="1.5"/>
<text x="1580.2" y="761.1" font-size="29.2" text-anchor="start">BF &lt; 1/10</text>
<line x1="152" y1="1444.5" x2="1510.9" y2="1444.5" stroke="#000" stroke-width="2.9" stroke-linecap="butt"/>
<line x1="303.7" y1="1390.8" x2="303.7" y2="1498.2" stroke="#000" stroke-width="2.9" stroke-linecap="butt"/>
<line x1="152" y1="1389.5" x2="152" y2="1499.5" stroke="#000" stroke-width="2.55" stroke-linecap="butt"/>
<line x1="152" y1="1390.8" x2="160.8" y2="1390.8" stroke="#000" stroke-width="2.55" stroke-linecap="butt"/>
<line x1="152" y1="1398.5" x2="160.8" y2="1398.5" stroke="#000" stroke-width="2.55" stroke-linecap="butt"/>
<line x1="152" y1="1406.1" x2="167" y2="1406.1" stroke="#000" stroke-width="2.55" stroke-linecap="butt"/>
<line x1="152" y1="1413.8" x2="160.8" y2="1413.8" stroke="#000" stroke-width="2.55" stroke-linecap="butt"/>
<line x1="152" y1="1421.5" x2="160.8" y2="1421.5" stroke="#000" stroke-width="2.55" stroke-linecap="butt"/>
<line x1="152" y1="1429.2" x2="160.8" y2="1429.2" stroke="#000" stroke-width="2.55" stroke-linecap="butt"/>
<line x1="152" y1="1436.8" x2="160.8" y2="1436.8" stroke="#000" stroke-width="2.55" stroke-linecap="butt"/>
<line x1="152" y1="1452.2" x2="160.8" y2="1452.2" stroke="#000" stroke-width="2.55" stroke-linecap="butt"/>
<line x1="152" y1="1459.8" x2="160.8" y2="1459.8" stroke="#000" stroke-width="2.55" stroke-linecap="butt"/>
<line x1="152" y1="1467.5" x2="160.8" y2="1467.5" stroke="#000" stroke-width="2.55" stroke-linecap="butt"/>
<line x1="152" y1="1475.2" x2="160.8" y2="1475.2" stroke="#000" stroke-width="2.55" stroke-linecap="butt"/>
<line x1="152" y1="1482.9" x2="167" y2="1482.9" stroke="#000" stroke-width="2.55" stroke-linecap="butt"/>
<line x1="152" y1="1490.5" x2="160.8" y2="1490.5" stroke="#000" stroke-width="2.55" stroke-linecap="butt"/>
<text x="127.3" y="1423.4" font-size="32.2" text-anchor="end">10</text>
<text x="127.5" y="1407.6" font-size="25.8" text-anchor="start">5</text>
<text x="117.1" y="1500.2" font-size="32.2" text-anchor="end">10</text>
<text x="117.8" y="1484.4" font-size="25.8" text-anchor="start">-5</text>
<text x="137.3" y="1456.7" font-size="32.2" text-anchor="end">1</text>
<line x1="150.7" y1="1498.2" x2="1518.3" y2="1498.2" stroke="#000" stroke-width="2.55" stroke-linecap="butt"/>
<text x="152" y="1540.1" font-size="32.2" text-anchor="middle">-100</text>
<line x1="303.7" y1="1498.2" x2="303.7" y2="1483.4" stroke="#000" stroke-width="2.55" stroke-linecap="butt"/>
<text x="303.7" y="1540.1" font-size="32.2" text-anchor="middle">0</text>
<line x1="455.3" y1="1498.2" x2="455.3" y2="1483.4" stroke="#000" stroke-width="2.55" stroke-linecap="butt"/>
<text x="455.3" y="1540.1" font-size="32.2" text-anchor="middle">100</text>
<line x1="607" y1="1498.2" x2="607" y2="1483.4" stroke="#000" stroke-width="2.55" stroke-linecap="butt"/>
<text x="607" y="1540.1" font-size="32.2" text-anchor="middle">200</text>
<line x1="758.7" y1="1498.2" x2="758.7" y2="1483.4" stroke="#000" stroke-width="2.55" stroke-linecap="butt"/>
<text x="758.7" y="1540.1" font-size="32.2" text-anchor="middle">300</text>
<line x1="910.3" y1="1498.2" x2="910.3" y2="1483.4" stroke="#000" stroke-width="2.55" stroke-linecap="butt"/>
<text x="910.3" y="1540.1" font-size="32.2" text-anchor="middle">400</text>
<line x1="1062" y1="1498.2" x2="1062" y2="1483.4" stroke="#000" stroke-width="2.55" stroke-linecap="butt"/>
<text x="1062" y="1540.1" font-size="32.2" text-anchor="middle">500</text>
<line x1="1213.7" y1="1498.2" x2="1213.7" y2="1483.4" stroke="#000" stroke-width="2.55" stroke-linecap="butt"/>
<text x="1213.7" y="1540.1" font-size="32.2" text-anchor="middle">600</text>
<line x1="1365.3" y1="1498.2" x2="1365.3" y2="1483.4" stroke="#000" stroke-width="2.55" stroke-linecap="butt"/>
<text x="1365.3" y="1540.1" font-size="32.2" text-anchor="middle">700</text>
<line x1="1517" y1="1498.2" x2="1517" y2="1483.4" stroke="#000" stroke-width="2.55" stroke-linecap="butt"/>
<text x="1517" y="1540.1" font-size="32.2" text-anchor="middle">800</text>
<circle cx="152" cy="1460.7" r="5.0" fill="#b3b3b3" stroke="#d2d2d2" stroke-width="1.6"/>
<circle cx="158.1" cy="1468.6" r="5.0" fill="#b3b3b3" stroke="#d2d2d2" stroke-width="1.6"/>
<circle cx="164.1" cy="1462.6" r="5.0" fill="#b3b3b3" stroke="#d2d2d2" stroke-width="1.6"/>
<circle cx="170.2" cy="1459.6" r="5.0" fill="#b3b3b3" stroke="#d2d2d2" stroke-width="1.6"/>
<circle cx="176.3" cy="1454.4" r="5.0" fill="#b3b3b3" stroke="#d2d2d2" stroke-width="1.6"/>
<circle cx="182.3" cy="1465.9" r="5.0" fill="#b3b3b3" stroke="#d2d2d2" stroke-width="1.6"/>
<circle cx="188.4" cy="1471.3" r="5.0" fill="#b3b3b3" stroke="#d2d2d2" stroke-width="1.6"/>
<circle cx="194.5" cy="1469.4" r="5.0" fill="#b3b3b3" stroke="#d2d2d2" stroke-width="1.6"/>
<circle cx="200.5" cy="1482.1" r="5.0" fill="#b3b3b3" stroke="#d2d2d2" stroke-width="1.6"/>
<circle cx="206.6" cy="1475" r="5.0" fill="#b3b3b3" stroke="#d2d2d2" stroke-width="1.6"/>
<circle cx="212.7" cy="1478.4" r="5.0" fill="#b3b3b3" stroke="#d2d2d2" stroke-width="1.6"/>
<circle cx="218.7" cy="1470.5" r="5.0" fill="#b3b3b3" stroke="#d2d2d2" stroke-width="1.6"/>
<circle cx="224.8" cy="1474.7" r="5.0" fill="#b3b3b3" stroke="#d2d2d2" stroke-width="1.6"/>
<circle cx="230.9" cy="1457.9" r="5.0" fill="#b3b3b3" stroke="#d2d2d2" stroke-width="1.6"/>
<circle cx="243" cy="1461" r="5.0" fill="#b3b3b3" stroke="#d2d2d2" stroke-width="1.6"/>
<circle cx="255.1" cy="1471.5" r="5.0" fill="#b3b3b3" stroke="#d2d2d2" stroke-width="1.6"/>
<circle cx="261.2" cy="1471.8" r="5.0" fill="#b3b3b3" stroke="#d2d2d2" stroke-width="1.6"/>
<circle cx="267.3" cy="1461.2" r="5.0" fill="#b3b3b3" stroke="#d2d2d2" stroke-width="1.6"/>
<circle cx="273.3" cy="1470.7" r="5.0" fill="#b3b3b3" stroke="#d2d2d2" stroke-width="1.6"/>
<circle cx="279.4" cy="1463.9" r="5.0" fill="#b3b3b3" stroke="#d2d2d2" stroke-width="1.6"/>
<circle cx="285.5" cy="1466.3" r="5.0" fill="#b3b3b3" stroke="#d2d2d2" stroke-width="1.6"/>
<circle cx="291.5" cy="1468.6" r="5.0" fill="#b3b3b3" stroke="#d2d2d2" stroke-width="1.6"/>
<circle cx="297.6" cy="1472.6" r="5.0" fill="#b3b3b3" stroke="#d2d2d2" stroke-width="1.6"/>
<circle cx="303.7" cy="1458" r="5.0" fill="#b3b3b3" stroke="#d2d2d2" stroke-width="1.6"/>
<circle cx="309.7" cy="1469.1" r="5.0" fill="#b3b3b3" stroke="#d2d2d2" stroke-width="1.6"/>
<circle cx="315.8" cy="1470.2" r="5.0" fill="#b3b3b3" stroke="#d2d2d2" stroke-width="1.6"/>
<circle cx="321.9" cy="1461.8" r="5.0" fill="#b3b3b3" stroke="#d2d2d2" stroke-width="1.6"/>
<circle cx="334" cy="1468.6" r="5.0" fill="#b3b3b3" stroke="#d2d2d2" stroke-width="1.6"/>
<circle cx="340.1" cy="1457.1" r="5.0" fill="#b3b3b3" stroke="#d2d2d2" stroke-width="1.6"/>
<circle cx="346.1" cy="1472.6" r="5.0" fill="#b3b3b3" stroke="#d2d2d2" stroke-width="1.6"/>
<circle cx="352.2" cy="1465.8" r="5.0" fill="#b3b3b3" stroke="#d2d2d2" stroke-width="1.6"/>
<circle cx="358.3" cy="1460.7" r="5.0" fill="#b3b3b3" stroke="#d2d2d2" stroke-width="1.6"/>
<circle cx="364.3" cy="1457.6" r="5.0" fill="#b3b3b3" stroke="#d2d2d2" stroke-width="1.6"/>
<circle cx="370.4" cy="1458.4" r="5.0" fill="#b3b3b3" stroke="#d2d2d2" stroke-width="1.6"/>
<circle cx="376.5" cy="1472.3" r="5.0" fill="#b3b3b3" stroke="#d2d2d2" stroke-width="1.6"/>
<circle cx="382.5" cy="1460.7" r="5.0" fill="#b3b3b3" stroke="#d2d2d2" stroke-width="1.6"/>
<circle cx="388.6" cy="1454.1" r="5.0" fill="#b3b3b3" stroke="#d2d2d2" stroke-width="1.6"/>
<circle cx="394.7" cy="1472.3" r="5.0" fill="#b3b3b3" stroke="#d2d2d2" stroke-width="1.6"/>
<circle cx="400.7" cy="1459.1" r="5.0" fill="#b3b3b3" stroke="#d2d2d2" stroke-width="1.6"/>
<circle cx="412.9" cy="1459.9" r="5.0" fill="#b3b3b3" stroke="#d2d2d2" stroke-width="1.6"/>
<circle cx="418.9" cy="1463.1" r="5.0" fill="#b3b3b3" stroke="#d2d2d2" stroke-width="1.6"/>
<circle cx="425" cy="1463.1" r="5.0" fill="#b3b3b3" stroke="#d2d2d2" stroke-width="1.6"/>
<circle cx="431.1" cy="1457.6" r="5.0" fill="#b3b3b3" stroke="#d2d2d2" stroke-width="1.6"/>
<circle cx="437.1" cy="1466.6" r="5.0" fill="#b3b3b3" stroke="#d2d2d2" stroke-width="1.6"/>
<circle cx="443.2" cy="1456.5" r="5.0" fill="#b3b3b3" stroke="#d2d2d2" stroke-width="1.6"/>
<circle cx="461.4" cy="1458.4" r="5.0" fill="#b3b3b3" stroke="#d2d2d2" stroke-width="1.6"/>
<circle cx="467.5" cy="1462.6" r="5.0" fill="#b3b3b3" stroke="#d2d2d2" stroke-width="1.6"/>
<circle cx="473.5" cy="1452.3" r="5.0" fill="#b3b3b3" stroke="#d2d2d2" stroke-width="1.6"/>
<circle cx="485.7" cy="1456.5" r="5.0" fill="#b3b3b3" stroke="#d2d2d2" stroke-width="1.6"/>
<circle cx="491.7" cy="1459.1" r="5.0" fill="#b3b3b3" stroke="#d2d2d2" stroke-width="1.6"/>
<circle cx="509.9" cy="1459.5" r="5.0" fill="#b3b3b3" stroke="#d2d2d2" stroke-width="1.6"/>
<circle cx="522.1" cy="1463.9" r="5.0" fill="#b3b3b3" stroke="#d2d2d2" stroke-width="1.6"/>
<circle cx="534.2" cy="1460.4" r="5.0" fill="#b3b3b3" stroke="#d2d2d2" stroke-width="1.6"/>
<circle cx="540.3" cy="1462.3" r="5.0" fill="#b3b3b3" stroke="#d2d2d2" stroke-width="1.6"/>
<circle cx="546.3" cy="1456" r="5.0" fill="#b3b3b3" stroke="#d2d2d2" stroke-width="1.6"/>
<circle cx="552.4" cy="1461.5" r="5.0" fill="#b3b3b3" stroke="#d2d2d2" stroke-width="1.6"/>
<circle cx="558.5" cy="1458.8" r="5.0" fill="#b3b3b3" stroke="#d2d2d2" stroke-width="1.6"/>
<circle cx="564.5" cy="1468.6" r="5.0" fill="#b3b3b3" stroke="#d2d2d2" stroke-width="1.6"/>
<circle cx="570.6" cy="1463.6" r="5.0" fill="#b3b3b3" stroke="#d2d2d2" stroke-width="1.6"/>
<circle cx="576.7" cy="1459.5" r="5.0" fill="#b3b3b3" stroke="#d2d2d2" stroke-width="1.6"/>
<circle cx="582.7" cy="1453.1" r="5.0" fill="#b3b3b3" stroke="#d2d2d2" stroke-width="1.6"/>
<circle cx="588.8" cy="1456" r="5.0" fill="#b3b3b3" stroke="#d2d2d2" stroke-width="1.6"/>
<circle cx="607" cy="1452.8" r="5.0" fill="#b3b3b3" stroke="#d2d2d2" stroke-width="1.6"/>
<circle cx="983.1" cy="1462.8" r="5.0" fill="#b3b3b3" stroke="#d2d2d2" stroke-width="1.6"/>
<circle cx="1001.3" cy="1453.1" r="5.0" fill="#b3b3b3" stroke="#d2d2d2" stroke-width="1.6"/>
<circle cx="1013.5" cy="1456.3" r="5.0" fill="#b3b3b3" stroke="#d2d2d2" stroke-width="1.6"/>
<circle cx="1043.8" cy="1453.6" r="5.0" fill="#b3b3b3" stroke="#d2d2d2" stroke-width="1.6"/>
<circle cx="1049.9" cy="1457.6" r="5.0" fill="#b3b3b3" stroke="#d2d2d2" stroke-width="1.6"/>
<circle cx="1068.1" cy="1454.4" r="5.0" fill="#b3b3b3" stroke="#d2d2d2" stroke-width="1.6"/>
<circle cx="1092.3" cy="1457.9" r="5.0" fill="#b3b3b3" stroke="#d2d2d2" stroke-width="1.6"/>
<circle cx="1104.5" cy="1456.8" r="5.0" fill="#b3b3b3" stroke="#d2d2d2" stroke-width="1.6"/>
<circle cx="1110.5" cy="1454.7" r="5.0" fill="#b3b3b3" stroke="#d2d2d2" stroke-width="1.6"/>
<circle cx="1159.1" cy="1452.5" r="5.0" fill="#b3b3b3" stroke="#d2d2d2" stroke-width="1.6"/>
<circle cx="1250.1" cy="1453.6" r="5.0" fill="#b3b3b3" stroke="#d2d2d2" stroke-width="1.6"/>
<circle cx="1256.1" cy="1460.4" r="5.0" fill="#b3b3b3" stroke="#d2d2d2" stroke-width="1.6"/>
<circle cx="1262.2" cy="1454.9" r="5.0" fill="#b3b3b3" stroke="#d2d2d2" stroke-width="1.6"/>
<circle cx="1280.4" cy="1453.1" r="5.0" fill="#b3b3b3" stroke="#d2d2d2" stroke-width="1.6"/>
<circle cx="1286.5" cy="1459.1" r="5.0" fill="#b3b3b3" stroke="#d2d2d2" stroke-width="1.6"/>
<circle cx="1292.5" cy="1455.7" r="5.0" fill="#b3b3b3" stroke="#d2d2d2" stroke-width="1.6"/>
<circle cx="1298.6" cy="1462.3" r="5.0" fill="#b3b3b3" stroke="#d2d2d2" stroke-width="1.6"/>
<circle cx="1304.7" cy="1461" r="5.0" fill="#b3b3b3" stroke="#d2d2d2" stroke-width="1.6"/>
<circle cx="1310.7" cy="1458" r="5.0" fill="#b3b3b3" stroke="#d2d2d2" stroke-width="1.6"/>
<circle cx="1347.1" cy="1452.8" r="5.0" fill="#b3b3b3" stroke="#d2d2d2" stroke-width="1.6"/>
<circle cx="1353.2" cy="1462.3" r="5.0" fill="#b3b3b3" stroke="#d2d2d2" stroke-width="1.6"/>
<circle cx="1359.3" cy="1457.9" r="5.0" fill="#b3b3b3" stroke="#d2d2d2" stroke-width="1.6"/>
<circle cx="1365.3" cy="1472.9" r="5.0" fill="#b3b3b3" stroke="#d2d2d2" stroke-width="1.6"/>
<circle cx="1371.4" cy="1465.9" r="5.0" fill="#b3b3b3" stroke="#d2d2d2" stroke-width="1.6"/>
<circle cx="1377.5" cy="1465.5" r="5.0" fill="#b3b3b3" stroke="#d2d2d2" stroke-width="1.6"/>
<circle cx="1383.5" cy="1468.3" r="5.0" fill="#b3b3b3" stroke="#d2d2d2" stroke-width="1.6"/>
<circle cx="1389.6" cy="1465.2" r="5.0" fill="#b3b3b3" stroke="#d2d2d2" stroke-width="1.6"/>
<circle cx="1395.7" cy="1454.1" r="5.0" fill="#b3b3b3" stroke="#d2d2d2" stroke-width="1.6"/>
<circle cx="1407.8" cy="1452.4" r="5.0" fill="#b3b3b3" stroke="#d2d2d2" stroke-width="1.6"/>
<circle cx="1419.9" cy="1457.4" r="5.0" fill="#b3b3b3" stroke="#d2d2d2" stroke-width="1.6"/>
<circle cx="1432.1" cy="1456.1" r="5.0" fill="#b3b3b3" stroke="#d2d2d2" stroke-width="1.6"/>
<circle cx="1438.1" cy="1463.5" r="5.0" fill="#b3b3b3" stroke="#d2d2d2" stroke-width="1.6"/>
<circle cx="1444.2" cy="1456.1" r="5.0" fill="#b3b3b3" stroke="#d2d2d2" stroke-width="1.6"/>
<circle cx="1450.3" cy="1453.2" r="5.0" fill="#b3b3b3" stroke="#d2d2d2" stroke-width="1.6"/>
<circle cx="1462.4" cy="1459.3" r="5.0" fill="#b3b3b3" stroke="#d2d2d2" stroke-width="1.6"/>
<circle cx="1468.5" cy="1455.4" r="5.0" fill="#b3b3b3" stroke="#d2d2d2" stroke-width="1.6"/>
<circle cx="1480.6" cy="1454.4" r="5.0" fill="#b3b3b3" stroke="#d2d2d2" stroke-width="1.6"/>
<circle cx="1486.7" cy="1458.6" r="5.0" fill="#b3b3b3" stroke="#d2d2d2" stroke-width="1.6"/>
<circle cx="236.9" cy="1450.4" r="5.0" fill="#ffffff" stroke="#c4c4c4" stroke-width="1.6"/>
<circle cx="249.1" cy="1451.7" r="5.0" fill="#ffffff" stroke="#c4c4c4" stroke-width="1.6"/>
<circle cx="327.9" cy="1450.8" r="5.0" fill="#ffffff" stroke="#c4c4c4" stroke-width="1.6"/>
<circle cx="406.8" cy="1448.9" r="5.0" fill="#ffffff" stroke="#c4c4c4" stroke-width="1.6"/>
<circle cx="449.3" cy="1446.2" r="5.0" fill="#ffffff" stroke="#c4c4c4" stroke-width="1.6"/>
<circle cx="455.3" cy="1444.9" r="5.0" fill="#ffffff" stroke="#c4c4c4" stroke-width="1.6"/>
<circle cx="479.6" cy="1448.9" r="5.0" fill="#ffffff" stroke="#c4c4c4" stroke-width="1.6"/>
<circle cx="497.8" cy="1443" r="5.0" fill="#ffffff" stroke="#c4c4c4" stroke-width="1.6"/>
<circle cx="516" cy="1449.2" r="5.0" fill="#ffffff" stroke="#c4c4c4" stroke-width="1.6"/>
<circle cx="528.1" cy="1452" r="5.0" fill="#ffffff" stroke="#c4c4c4" stroke-width="1.6"/>
<circle cx="594.9" cy="1447.3" r="5.0" fill="#ffffff" stroke="#c4c4c4" stroke-width="1.6"/>
<circle cx="600.9" cy="1448.9" r="5.0" fill="#ffffff" stroke="#c4c4c4" stroke-width="1.6"/>
<circle cx="613.1" cy="1451.6" r="5.0" fill="#ffffff" stroke="#c4c4c4" stroke-width="1.6"/>
<circle cx="619.1" cy="1447.3" r="5.0" fill="#ffffff" stroke="#c4c4c4" stroke-width="1.6"/>
<circle cx="625.2" cy="1438.6" r="5.0" fill="#ffffff" stroke="#c4c4c4" stroke-width="1.6"/>
<circle cx="631.3" cy="1443" r="5.0" fill="#ffffff" stroke="#c4c4c4" stroke-width="1.6"/>
<circle cx="643.4" cy="1439.7" r="5.0" fill="#ffffff" stroke="#c4c4c4" stroke-width="1.6"/>
<circle cx="801.1" cy="1441" r="5.0" fill="#ffffff" stroke="#c4c4c4" stroke-width="1.6"/>
<circle cx="837.5" cy="1440.2" r="5.0" fill="#ffffff" stroke="#c4c4c4" stroke-width="1.6"/>
<circle cx="904.3" cy="1436.7" r="5.0" fill="#ffffff" stroke="#c4c4c4" stroke-width="1.6"/>
<circle cx="910.3" cy="1444.1" r="5.0" fill="#ffffff" stroke="#c4c4c4" stroke-width="1.6"/>
<circle cx="922.5" cy="1449.2" r="5.0" fill="#ffffff" stroke="#c4c4c4" stroke-width="1.6"/>
<circle cx="928.5" cy="1448.1" r="5.0" fill="#ffffff" stroke="#c4c4c4" stroke-width="1.6"/>
<circle cx="952.8" cy="1437.3" r="5.0" fill="#ffffff" stroke="#c4c4c4" stroke-width="1.6"/>
<circle cx="958.9" cy="1441.7" r="5.0" fill="#ffffff" stroke="#c4c4c4" stroke-width="1.6"/>
<circle cx="964.9" cy="1444.9" r="5.0" fill="#ffffff" stroke="#c4c4c4" stroke-width="1.6"/>
<circle cx="971" cy="1438.6" r="5.0" fill="#ffffff" stroke="#c4c4c4" stroke-width="1.6"/>
<circle cx="989.2" cy="1444.6" r="5.0" fill="#ffffff" stroke="#c4c4c4" stroke-width="1.6"/>
<circle cx="1007.4" cy="1442.5" r="5.0" fill="#ffffff" stroke="#c4c4c4" stroke-width="1.6"/>
<circle cx="1019.5" cy="1441.7" r="5.0" fill="#ffffff" stroke="#c4c4c4" stroke-width="1.6"/>
<circle cx="1031.7" cy="1450.1" r="5.0" fill="#ffffff" stroke="#c4c4c4" stroke-width="1.6"/>
<circle cx="1037.7" cy="1438.3" r="5.0" fill="#ffffff" stroke="#c4c4c4" stroke-width="1.6"/>
<circle cx="1055.9" cy="1443.3" r="5.0" fill="#ffffff" stroke="#c4c4c4" stroke-width="1.6"/>
<circle cx="1074.1" cy="1444.4" r="5.0" fill="#ffffff" stroke="#c4c4c4" stroke-width="1.6"/>
<circle cx="1080.2" cy="1443.3" r="5.0" fill="#ffffff" stroke="#c4c4c4" stroke-width="1.6"/>
<circle cx="1086.3" cy="1442.5" r="5.0" fill="#ffffff" stroke="#c4c4c4" stroke-width="1.6"/>
<circle cx="1098.4" cy="1446.5" r="5.0" fill="#ffffff" stroke="#c4c4c4" stroke-width="1.6"/>
<circle cx="1116.6" cy="1446.2" r="5.0" fill="#ffffff" stroke="#c4c4c4" stroke-width="1.6"/>
<circle cx="1122.7" cy="1439.8" r="5.0" fill="#ffffff" stroke="#c4c4c4" stroke-width="1.6"/>
<circle cx="1128.7" cy="1437.5" r="5.0" fill="#ffffff" stroke="#c4c4c4" stroke-width="1.6"/>
<circle cx="1134.8" cy="1442.1" r="5.0" fill="#ffffff" stroke="#c4c4c4" stroke-width="1.6"/>
<circle cx="1146.9" cy="1444.6" r="5.0" fill="#ffffff" stroke="#c4c4c4" stroke-width="1.6"/>
<circle cx="1153" cy="1446.2" r="5.0" fill="#ffffff" stroke="#c4c4c4" stroke-width="1.6"/>
<circle cx="1165.1" cy="1451.2" r="5.0" fill="#ffffff" stroke="#c4c4c4" stroke-width="1.6"/>
<circle cx="1171.2" cy="1438.9" r="5.0" fill="#ffffff" stroke="#c4c4c4" stroke-width="1.6"/>
<circle cx="1177.3" cy="1439.7" r="5.0" fill="#ffffff" stroke="#c4c4c4" stroke-width="1.6"/>
<circle cx="1183.3" cy="1447" r="5.0" fill="#ffffff" stroke="#c4c4c4" stroke-width="1.6"/>
<circle cx="1189.4" cy="1439.7" r="5.0" fill="#ffffff" stroke="#c4c4c4" stroke-width="1.6"/>
<circle cx="1195.5" cy="1439.4" r="5.0" fill="#ffffff" stroke="#c4c4c4" stroke-width="1.6"/>
<circle cx="1201.5" cy="1449.7" r="5.0" fill="#ffffff" stroke="#c4c4c4" stroke-width="1.6"/>
<circle cx="1207.6" cy="1450.1" r="5.0" fill="#ffffff" stroke="#c4c4c4" stroke-width="1.6"/>
<circle cx="1213.7" cy="1449.3" r="5.0" fill="#ffffff" stroke="#c4c4c4" stroke-width="1.6"/>
<circle cx="1219.7" cy="1451.2" r="5.0" fill="#ffffff" stroke="#c4c4c4" stroke-width="1.6"/>
<circle cx="1225.8" cy="1445.7" r="5.0" fill="#ffffff" stroke="#c4c4c4" stroke-width="1.6"/>
<circle cx="1231.9" cy="1444.9" r="5.0" fill="#ffffff" stroke="#c4c4c4" stroke-width="1.6"/>
<circle cx="1237.9" cy="1447.8" r="5.0" fill="#ffffff" stroke="#c4c4c4" stroke-width="1.6"/>
<circle cx="1244" cy="1445.7" r="5.0" fill="#ffffff" stroke="#c4c4c4" stroke-width="1.6"/>
<circle cx="1268.3" cy="1444.1" r="5.0" fill="#ffffff" stroke="#c4c4c4" stroke-width="1.6"/>
<circle cx="1274.3" cy="1452" r="5.0" fill="#ffffff" stroke="#c4c4c4" stroke-width="1.6"/>
<circle cx="1316.8" cy="1450.8" r="5.0" fill="#ffffff" stroke="#c4c4c4" stroke-width="1.6"/>
<circle cx="1322.9" cy="1443.8" r="5.0" fill="#ffffff" stroke="#c4c4c4" stroke-width="1.6"/>
<circle cx="1328.9" cy="1452.3" r="5.0" fill="#ffffff" stroke="#c4c4c4" stroke-width="1.6"/>
<circle cx="1335" cy="1444.4" r="5.0" fill="#ffffff" stroke="#c4c4c4" stroke-width="1.6"/>
<circle cx="1341.1" cy="1451.2" r="5.0" fill="#ffffff" stroke="#c4c4c4" stroke-width="1.6"/>
<circle cx="1401.7" cy="1448.9" r="5.0" fill="#ffffff" stroke="#c4c4c4" stroke-width="1.6"/>
<circle cx="1413.9" cy="1451.8" r="5.0" fill="#ffffff" stroke="#c4c4c4" stroke-width="1.6"/>
<circle cx="1426" cy="1451.4" r="5.0" fill="#ffffff" stroke="#c4c4c4" stroke-width="1.6"/>
<circle cx="1474.5" cy="1448.5" r="5.0" fill="#ffffff" stroke="#c4c4c4" stroke-width="1.6"/>
<circle cx="1492.7" cy="1452" r="5.0" fill="#ffffff" stroke="#c4c4c4" stroke-width="1.6"/>
<circle cx="1498.8" cy="1449.3" r="5.0" fill="#ffffff" stroke="#c4c4c4" stroke-width="1.6"/>
<circle cx="1504.9" cy="1446.9" r="5.0" fill="#ffffff" stroke="#c4c4c4" stroke-width="1.6"/>
<circle cx="1510.9" cy="1451.2" r="5.0" fill="#ffffff" stroke="#c4c4c4" stroke-width="1.6"/>
<circle cx="503.9" cy="1429.1" r="5.0" fill="#2ca02c" stroke="#d4d4d4" stroke-width="1.6"/>
<circle cx="637.3" cy="1434.3" r="5.0" fill="#2ca02c" stroke="#d4d4d4" stroke-width="1.6"/>
<circle cx="649.5" cy="1435.1" r="5.0" fill="#2ca02c" stroke="#d4d4d4" stroke-width="1.6"/>
<circle cx="655.5" cy="1433" r="5.0" fill="#2ca02c" stroke="#d4d4d4" stroke-width="1.6"/>
<circle cx="661.6" cy="1435.1" r="5.0" fill="#2ca02c" stroke="#d4d4d4" stroke-width="1.6"/>
<circle cx="667.7" cy="1433.8" r="5.0" fill="#2ca02c" stroke="#d4d4d4" stroke-width="1.6"/>
<circle cx="673.7" cy="1426.2" r="5.0" fill="#2ca02c" stroke="#d4d4d4" stroke-width="1.6"/>
<circle cx="679.8" cy="1434.9" r="5.0" fill="#2ca02c" stroke="#d4d4d4" stroke-width="1.6"/>
<circle cx="685.9" cy="1423.1" r="5.0" fill="#2ca02c" stroke="#d4d4d4" stroke-width="1.6"/>
<circle cx="691.9" cy="1426.7" r="5.0" fill="#2ca02c" stroke="#d4d4d4" stroke-width="1.6"/>
<circle cx="698" cy="1422.8" r="5.0" fill="#2ca02c" stroke="#d4d4d4" stroke-width="1.6"/>
<circle cx="704.1" cy="1414.1" r="5.0" fill="#2ca02c" stroke="#d4d4d4" stroke-width="1.6"/>
<circle cx="710.1" cy="1418.5" r="5.0" fill="#2ca02c" stroke="#d4d4d4" stroke-width="1.6"/>
<circle cx="716.2" cy="1422" r="5.0" fill="#2ca02c" stroke="#d4d4d4" stroke-width="1.6"/>
<circle cx="722.3" cy="1422.8" r="5.0" fill="#2ca02c" stroke="#d4d4d4" stroke-width="1.6"/>
<circle cx="728.3" cy="1414.8" r="5.0" fill="#2ca02c" stroke="#d4d4d4" stroke-width="1.6"/>
<circle cx="734.4" cy="1414.1" r="5.0" fill="#2ca02c" stroke="#d4d4d4" stroke-width="1.6"/>
<circle cx="740.5" cy="1422" r="5.0" fill="#2ca02c" stroke="#d4d4d4" stroke-width="1.6"/>
<circle cx="746.5" cy="1425.1" r="5.0" fill="#2ca02c" stroke="#d4d4d4" stroke-width="1.6"/>
<circle cx="752.6" cy="1428" r="5.0" fill="#2ca02c" stroke="#d4d4d4" stroke-width="1.6"/>
<circle cx="758.7" cy="1422.8" r="5.0" fill="#2ca02c" stroke="#d4d4d4" stroke-width="1.6"/>
<circle cx="764.7" cy="1420.7" r="5.0" fill="#2ca02c" stroke="#d4d4d4" stroke-width="1.6"/>
<circle cx="770.8" cy="1428.3" r="5.0" fill="#2ca02c" stroke="#d4d4d4" stroke-width="1.6"/>
<circle cx="776.9" cy="1430.7" r="5.0" fill="#2ca02c" stroke="#d4d4d4" stroke-width="1.6"/>
<circle cx="782.9" cy="1433.8" r="5.0" fill="#2ca02c" stroke="#d4d4d4" stroke-width="1.6"/>
<circle cx="789" cy="1421.5" r="5.0" fill="#2ca02c" stroke="#d4d4d4" stroke-width="1.6"/>
<circle cx="795.1" cy="1436.2" r="5.0" fill="#2ca02c" stroke="#d4d4d4" stroke-width="1.6"/>
<circle cx="807.2" cy="1430.7" r="5.0" fill="#2ca02c" stroke="#d4d4d4" stroke-width="1.6"/>
<circle cx="813.3" cy="1434.2" r="5.0" fill="#2ca02c" stroke="#d4d4d4" stroke-width="1.6"/>
<circle cx="819.3" cy="1433.4" r="5.0" fill="#2ca02c" stroke="#d4d4d4" stroke-width="1.6"/>
<circle cx="825.4" cy="1431.1" r="5.0" fill="#2ca02c" stroke="#d4d4d4" stroke-width="1.6"/>
<circle cx="831.5" cy="1436.7" r="5.0" fill="#2ca02c" stroke="#d4d4d4" stroke-width="1.6"/>
<circle cx="843.6" cy="1420.9" r="5.0" fill="#2ca02c" stroke="#d4d4d4" stroke-width="1.6"/>
<circle cx="849.7" cy="1423.9" r="5.0" fill="#2ca02c" stroke="#d4d4d4" stroke-width="1.6"/>
<circle cx="855.7" cy="1433.4" r="5.0" fill="#2ca02c" stroke="#d4d4d4" stroke-width="1.6"/>
<circle cx="861.8" cy="1434.9" r="5.0" fill="#2ca02c" stroke="#d4d4d4" stroke-width="1.6"/>
<circle cx="867.9" cy="1435.4" r="5.0" fill="#2ca02c" stroke="#d4d4d4" stroke-width="1.6"/>
<circle cx="873.9" cy="1433.8" r="5.0" fill="#2ca02c" stroke="#d4d4d4" stroke-width="1.6"/>
<circle cx="880" cy="1427" r="5.0" fill="#2ca02c" stroke="#d4d4d4" stroke-width="1.6"/>
<circle cx="886.1" cy="1427.5" r="5.0" fill="#2ca02c" stroke="#d4d4d4" stroke-width="1.6"/>
<circle cx="892.1" cy="1435.7" r="5.0" fill="#2ca02c" stroke="#d4d4d4" stroke-width="1.6"/>
<circle cx="898.2" cy="1432.3" r="5.0" fill="#2ca02c" stroke="#d4d4d4" stroke-width="1.6"/>
<circle cx="916.4" cy="1436.2" r="5.0" fill="#2ca02c" stroke="#d4d4d4" stroke-width="1.6"/>
<circle cx="934.6" cy="1434.6" r="5.0" fill="#2ca02c" stroke="#d4d4d4" stroke-width="1.6"/>
<circle cx="940.7" cy="1436.5" r="5.0" fill="#2ca02c" stroke="#d4d4d4" stroke-width="1.6"/>
<circle cx="946.7" cy="1437.3" r="5.0" fill="#2ca02c" stroke="#d4d4d4" stroke-width="1.6"/>
<circle cx="977.1" cy="1433.8" r="5.0" fill="#2ca02c" stroke="#d4d4d4" stroke-width="1.6"/>
<circle cx="995.3" cy="1426.7" r="5.0" fill="#2ca02c" stroke="#d4d4d4" stroke-width="1.6"/>
<circle cx="1025.6" cy="1436.2" r="5.0" fill="#2ca02c" stroke="#d4d4d4" stroke-width="1.6"/>
<circle cx="1062" cy="1423.9" r="5.0" fill="#2ca02c" stroke="#d4d4d4" stroke-width="1.6"/>
<circle cx="1140.9" cy="1430.7" r="5.0" fill="#2ca02c" stroke="#d4d4d4" stroke-width="1.6"/>
<circle cx="1456.3" cy="1434.6" r="5.0" fill="#2ca02c" stroke="#d4d4d4" stroke-width="1.6"/>
<text x="1552.6" y="1395.1" font-size="29.2" text-anchor="start">Difference</text>
<circle cx="1561.7" cy="1422.8" r="7.0" fill="#2ca02c" stroke="#d9d9d9" stroke-width="1.5"/>
<text x="1580.2" y="1432.8" font-size="29.2" text-anchor="start">BF &gt; 10</text>
<circle cx="1561.7" cy="1453.2" r="7.0" fill="#ffffff" stroke="#c4c4c4" stroke-width="1.5"/>
<text x="1580.2" y="1463.6" font-size="29.2" text-anchor="start">1/10 &lt; BF &lt; 10</text>
<circle cx="1561.7" cy="1483.4" r="7.0" fill="#b5b5b5" stroke="#d6d6d6" stroke-width="1.5"/>
<text x="1580.2" y="1493.9" font-size="29.2" text-anchor="start">BF &lt; 1/10</text>
<polygon points="152,1197.9 158.1,1217.5 164.1,1203.4 170.2,1192.9 176.3,1182.1 182.3,1215.1 188.4,1229.9 194.5,1212.9 200.5,1246.2 206.6,1231.3 212.7,1237.8 218.7,1221.3 224.8,1223.7 230.9,1184.1 236.9,1176.2 243,1204.3 249.1,1180.9 255.1,1235.3 261.2,1220 267.3,1189.7 273.3,1224.6 279.4,1200.8 285.5,1209.4 291.5,1213.3 297.6,1228.8 303.7,1194.3 309.7,1212.7 315.8,1212 321.9,1195.6 327.9,1163.9 334,1205.9 340.1,1188.6 346.1,1225.6 352.2,1203.8 358.3,1196 364.3,1197.5 370.4,1188.6 376.5,1232.3 382.5,1201.7 388.6,1176.3 394.7,1222 400.7,1193.1 406.8,1179.5 412.9,1200.6 418.9,1207.3 425,1201.3 431.1,1185.5 437.1,1203.9 443.2,1189.1 449.3,1165.8 455.3,1162.1 461.4,1175.2 467.5,1190.7 473.5,1166.9 479.6,1159 485.7,1191.1 491.7,1189.8 497.8,1162.5 503.9,1151.4 509.9,1201 516,1161.9 522.1,1198.4 528.1,1174.2 534.2,1189.8 540.3,1203 546.3,1183.5 552.4,1197.8 558.5,1185.5 564.5,1206.6 570.6,1198.6 576.7,1185.8 582.7,1181.1 588.8,1176.7 594.9,1141.2 600.9,1146.9 607,1158.1 613.1,1147.3 619.1,1127.6 625.2,1115.1 631.3,1117.5 637.3,1089 643.4,1099 649.5,1098.1 655.5,1093.3 661.6,1075.9 667.7,1069.5 673.7,1054.2 679.8,1080.9 685.9,1053.4 691.9,1073.6 698,1049.2 704.1,1029.8 710.1,1062.1 716.2,1047.1 722.3,1025.2 728.3,999.8 734.4,1033.6 740.5,1044.5 746.5,1043.7 752.6,1041.8 758.7,1046.8 764.7,1036.1 770.8,1053.9 776.9,1066.7 782.9,1084.1 789,1049.6 795.1,1081.5 801.1,1089.9 807.2,1086.2 813.3,1083.1 819.3,1093 825.4,1074 831.5,1104.7 837.5,1098.4 843.6,1080.3 849.7,1080.4 855.7,1107.7 861.8,1122.4 867.9,1105.1 873.9,1076.9 880,1099.1 886.1,1087.4 892.1,1119.6 898.2,1115.2 904.3,1112 910.3,1149.6 916.4,1133 922.5,1157.8 928.5,1152.5 934.6,1119.2 940.7,1115 946.7,1120 952.8,1122.1 958.9,1131 964.9,1149.9 971,1127.8 977.1,1124.9 983.1,1185.5 989.2,1121.2 995.3,1115.9 1001.3,1159.7 1007.4,1139.2 1013.5,1178.5 1019.5,1131.8 1025.6,1132.4 1031.7,1163.2 1037.7,1137.2 1043.8,1172.3 1049.9,1179.5 1055.9,1146 1062,1128.8 1068.1,1169.6 1074.1,1146.6 1080.2,1152.2 1086.3,1144.9 1092.3,1188.2 1098.4,1147.7 1104.5,1184.9 1110.5,1186.7 1116.6,1150.1 1122.7,1139.9 1128.7,1149.2 1134.8,1137.3 1140.9,1139.4 1146.9,1144.8 1153,1151.2 1159.1,1160.2 1165.1,1154.1 1171.2,1118 1177.3,1122.8 1183.3,1165 1189.4,1139.9 1195.5,1148.4 1201.5,1154.3 1207.6,1160.2 1213.7,1161.5 1219.7,1165 1225.8,1159.6 1231.9,1159.8 1237.9,1149.4 1244,1163 1250.1,1170.3 1256.1,1185.6 1262.2,1165.5 1268.3,1139.8 1274.3,1158.9 1280.4,1169.8 1286.5,1187.7 1292.5,1181.9 1298.6,1203.4 1304.7,1193.6 1310.7,1184.6 1316.8,1158.9 1322.9,1142.6 1328.9,1166 1335,1155 1341.1,1160.2 1347.1,1163.5 1353.2,1193.1 1359.3,1188.1 1365.3,1226.4 1371.4,1206.7 1377.5,1214.2 1383.5,1211.9 1389.6,1204.8 1395.7,1181.6 1401.7,1176.5 1407.8,1165.7 1413.9,1169.7 1419.9,1181.4 1426,1173.3 1432.1,1191.2 1438.1,1201.4 1444.2,1192.5 1450.3,1179.9 1456.3,1147 1462.4,1190.2 1468.5,1174.9 1474.5,1166.5 1480.6,1171.2 1486.7,1187.2 1492.7,1171.2 1498.8,1158.6 1504.9,1159.2 1510.9,1180.5 1510.9,1258 1504.9,1236.3 1498.8,1234.8 1492.7,1250.6 1486.7,1264.3 1480.6,1255.6 1474.5,1239.2 1468.5,1260.6 1462.4,1265.8 1456.3,1223.6 1450.3,1246.2 1444.2,1261.1 1438.1,1276.2 1432.1,1265.4 1426,1257.6 1419.9,1271.8 1413.9,1257 1407.8,1253.5 1401.7,1244.9 1395.7,1247.5 1389.6,1276.9 1383.5,1281.5 1377.5,1276.4 1371.4,1283.1 1365.3,1309.5 1359.3,1275.3 1353.2,1281.1 1347.1,1254.9 1341.1,1252.2 1335,1240.5 1328.9,1254.6 1322.9,1242.1 1316.8,1245.1 1310.7,1271.1 1304.7,1281.3 1298.6,1281.6 1292.5,1258.6 1286.5,1273.5 1280.4,1258.9 1274.3,1248.4 1268.3,1238.5 1262.2,1272.4 1256.1,1283.7 1250.1,1257.4 1244,1235.4 1237.9,1239.2 1231.9,1240.6 1225.8,1236.9 1219.7,1247 1213.7,1243.5 1207.6,1253.1 1201.5,1231.8 1195.5,1215.4 1189.4,1210.3 1183.3,1242.1 1177.3,1221.9 1171.2,1219.5 1165.1,1251 1159.1,1259.1 1153,1247 1146.9,1240.6 1140.9,1240.2 1134.8,1247.6 1128.7,1250.2 1122.7,1234.6 1116.6,1236.5 1110.5,1258.4 1104.5,1263.8 1098.4,1222.5 1092.3,1274.7 1086.3,1236.4 1080.2,1226.7 1074.1,1219.8 1068.1,1261.7 1062,1216.6 1055.9,1224.6 1049.9,1262.5 1043.8,1255.1 1037.7,1211.5 1031.7,1242.5 1025.6,1223.6 1019.5,1230.8 1013.5,1258.6 1007.4,1220.6 1001.3,1252.9 995.3,1220.1 989.2,1230.3 983.1,1276.5 977.1,1208.8 971,1220.6 964.9,1240.1 958.9,1231.5 952.8,1218.8 946.7,1206.5 940.7,1212.2 934.6,1219.9 928.5,1244.3 922.5,1250.9 916.4,1226.5 910.3,1239.5 904.3,1215.7 898.2,1199.7 892.1,1218.6 886.1,1185.5 880,1212.8 873.9,1197.9 867.9,1217.6 861.8,1222.1 855.7,1202.9 849.7,1176.4 843.6,1188.2 837.5,1219 831.5,1218 825.4,1198.9 819.3,1210 813.3,1199.3 807.2,1200.1 801.1,1213.3 795.1,1201.2 789,1168 782.9,1197.6 776.9,1169.1 770.8,1159.3 764.7,1148.6 758.7,1137.2 752.6,1148.2 746.5,1156.9 740.5,1159.4 734.4,1152.7 728.3,1106.5 722.3,1140.7 716.2,1144.3 710.1,1144.1 704.1,1121.9 698,1132.8 691.9,1166.2 685.9,1176.4 679.8,1191.2 673.7,1158.8 667.7,1181.7 661.6,1192.2 655.5,1206.1 649.5,1225.1 643.4,1232.1 637.3,1210.5 631.3,1226 625.2,1222.1 619.1,1233.5 613.1,1247.5 607,1250.1 600.9,1237.1 594.9,1227.5 588.8,1261.1 582.7,1257.6 576.7,1265.2 570.6,1281.1 564.5,1294.7 558.5,1267.3 552.4,1277.3 546.3,1258.5 540.3,1271.4 534.2,1265.9 528.1,1255.7 522.1,1275 516,1237.2 509.9,1264.3 503.9,1214.5 497.8,1226.6 491.7,1270.2 485.7,1270.6 479.6,1244.7 473.5,1251.9 467.5,1277.8 461.4,1266.8 455.3,1238.3 449.3,1244.4 443.2,1260.6 437.1,1290.3 431.1,1268 425,1284.6 418.9,1281.1 412.9,1272.5 406.8,1247.3 400.7,1273.5 394.7,1293.6 388.6,1269.6 382.5,1279.8 376.5,1316.2 370.4,1259.8 364.3,1264.5 358.3,1262.6 352.2,1271.2 346.1,1298 340.1,1252.9 334,1288.2 327.9,1250.3 321.9,1277.7 315.8,1291.9 309.7,1292.4 303.7,1264.6 297.6,1310.6 291.5,1294.2 285.5,1283.8 279.4,1280.5 273.3,1289.9 267.3,1267.6 261.2,1289.1 255.1,1308.4 249.1,1251.1 243,1269.8 236.9,1246.9 230.9,1268.1 224.8,1301.2 218.7,1292 212.7,1312.9 206.6,1319.5 200.5,1322.9 194.5,1284.7 188.4,1304.7 182.3,1284.1 176.3,1254.7 170.2,1271 164.1,1277 158.1,1281.6 152,1277.8" fill="#2ca02c" fill-opacity="0.2"/>
<line x1="152" y1="1234.1" x2="1510.9" y2="1234.1" stroke="#000" stroke-width="2.9" stroke-linecap="butt"/>
<line x1="303.7" y1="959.7" x2="303.7" y2="1234.1" stroke="#000" stroke-width="2.9" stroke-linecap="butt"/>
<polyline points="152,1234 158.1,1250.2 164.1,1239.6 170.2,1231.3 176.3,1219.2 182.3,1248.7 188.4,1263.8 194.5,1251.7 200.5,1287.6 206.6,1275.8 212.7,1281.1 218.7,1264.5 224.8,1271.3 230.9,1225.3 236.9,1206.9 243,1233.6 249.1,1210.9 255.1,1268 261.2,1258.5 267.3,1234.3 273.3,1257.4 279.4,1240.4 285.5,1244.6 291.5,1250.9 297.6,1265.7 303.7,1227.2 309.7,1251.4 315.8,1249.9 321.9,1234.3 327.9,1207.6 334,1250.2 340.1,1226.5 346.1,1265.3 352.2,1244.9 358.3,1232.8 364.3,1226 370.4,1228 376.5,1272.8 382.5,1234.8 388.6,1219.6 394.7,1255.6 400.7,1229.9 406.8,1210.7 412.9,1229.9 418.9,1238.5 425,1239.1 431.1,1225.2 437.1,1248.1 443.2,1223.5 449.3,1206.4 455.3,1199.3 461.4,1228.8 467.5,1237.8 473.5,1207.4 479.6,1202.1 485.7,1224.6 491.7,1229.3 497.8,1187.8 503.9,1177.5 509.9,1231 516,1201 522.1,1242.7 528.1,1213.9 534.2,1229.9 540.3,1237.4 546.3,1219.2 552.4,1235.2 558.5,1227.1 564.5,1252.4 570.6,1240.6 576.7,1227.8 582.7,1216.6 588.8,1214.5 594.9,1180.3 600.9,1192.1 607,1207.1 613.1,1194.8 619.1,1180.7 625.2,1163.5 631.3,1184.2 637.3,1158.6 643.4,1169.3 649.5,1153.2 655.5,1144.7 661.6,1134.4 667.7,1128.6 673.7,1104 679.8,1126.1 685.9,1106.2 691.9,1119 698,1083.7 704.1,1066.6 710.1,1098.7 716.2,1096.1 722.3,1082.7 728.3,1058.7 734.4,1084.4 740.5,1096.1 746.5,1098.3 752.6,1095.5 758.7,1097.6 764.7,1101.3 770.8,1104 776.9,1124.4 782.9,1136.5 789,1107.2 795.1,1144.7 801.1,1146.4 807.2,1140.4 813.3,1142.1 819.3,1140.8 825.4,1125 831.5,1161.3 837.5,1164.7 843.6,1134 849.7,1119.3 855.7,1149.6 861.8,1164.3 867.9,1155.3 873.9,1139.4 880,1156.1 886.1,1135.7 892.1,1174.1 898.2,1154.5 904.3,1158.6 910.3,1192.9 916.4,1179.8 922.5,1206.8 928.5,1201.9 934.6,1173.3 940.7,1168.4 946.7,1161 952.8,1165.9 958.9,1182.3 964.9,1198.3 971,1174.9 977.1,1169.2 983.1,1238.7 989.2,1180.6 995.3,1177.4 1001.3,1216.6 1007.4,1188 1013.5,1221.5 1019.5,1182.3 1025.6,1178.2 1031.7,1203.5 1037.7,1170 1043.8,1215.8 1049.9,1226.4 1055.9,1186.4 1062,1177.3 1068.1,1221.1 1074.1,1188.3 1080.2,1193.2 1086.3,1193.7 1092.3,1225.5 1098.4,1192.5 1104.5,1223.9 1110.5,1219.8 1116.6,1192.8 1122.7,1186.6 1128.7,1189.9 1134.8,1183.4 1140.9,1183.4 1146.9,1191.2 1153,1198.6 1159.1,1210.8 1165.1,1201.8 1171.2,1172.4 1177.3,1175.3 1183.3,1201.8 1189.4,1175.7 1195.5,1185.5 1201.5,1196.9 1207.6,1210.8 1213.7,1201.3 1219.7,1207.6 1225.8,1201 1231.9,1198.6 1237.9,1189.2 1244,1193.2 1250.1,1205.9 1256.1,1232.1 1262.2,1216.1 1268.3,1190.4 1274.3,1206.7 1280.4,1214.1 1286.5,1228.8 1292.5,1221.9 1298.6,1237.3 1304.7,1232.9 1310.7,1225.5 1316.8,1202.6 1322.9,1193.7 1328.9,1214.9 1335,1197.7 1341.1,1209.5 1347.1,1209.2 1353.2,1237.8 1359.3,1225.5 1365.3,1266.4 1371.4,1247.6 1377.5,1246.8 1383.5,1252 1389.6,1246.8 1395.7,1214.1 1401.7,1210.3 1407.8,1213.6 1413.9,1211.2 1419.9,1221.5 1426,1205.9 1432.1,1223.1 1438.1,1239.9 1444.2,1223.9 1450.3,1215.4 1456.3,1191.2 1462.4,1229.6 1468.5,1215.7 1474.5,1196.1 1480.6,1212.1 1486.7,1228 1492.7,1214.1 1498.8,1201.3 1504.9,1199.4 1510.9,1213.3" fill="none" stroke="#2ca02c" stroke-width="3.7" stroke-linejoin="round" stroke-linecap="butt"/>
<line x1="152" y1="958.4" x2="152" y2="1326.9" stroke="#000" stroke-width="2.55" stroke-linecap="butt"/>
<text x="141.3" y="1337.8" font-size="32.2" text-anchor="end">-1</text>
<line x1="152" y1="1234.1" x2="167" y2="1234.1" stroke="#000" stroke-width="2.55" stroke-linecap="butt"/>
<text x="141.3" y="1246.3" font-size="32.2" text-anchor="end">0</text>
<line x1="152" y1="1142.7" x2="167" y2="1142.7" stroke="#000" stroke-width="2.55" stroke-linecap="butt"/>
<text x="141.3" y="1154.9" font-size="32.2" text-anchor="end">1</text>
<line x1="152" y1="1051.2" x2="167" y2="1051.2" stroke="#000" stroke-width="2.55" stroke-linecap="butt"/>
<text x="141.3" y="1063.4" font-size="32.2" text-anchor="end">2</text>
<line x1="152" y1="959.7" x2="167" y2="959.7" stroke="#000" stroke-width="2.55" stroke-linecap="butt"/>
<text x="141.3" y="971.9" font-size="32.2" text-anchor="end">3</text>
<line x1="150.7" y1="1325.6" x2="1518.3" y2="1325.6" stroke="#000" stroke-width="2.55" stroke-linecap="butt"/>
<text x="152" y="1367.5" font-size="32.2" text-anchor="middle">-100</text>
<line x1="303.7" y1="1325.6" x2="303.7" y2="1310.8" stroke="#000" stroke-width="2.55" stroke-linecap="butt"/>
<text x="303.7" y="1367.5" font-size="32.2" text-anchor="middle">0</text>
<line x1="455.3" y1="1325.6" x2="455.3" y2="1310.8" stroke="#000" stroke-width="2.55" stroke-linecap="butt"/>
<text x="455.3" y="1367.5" font-size="32.2" text-anchor="middle">100</text>
<line x1="607" y1="1325.6" x2="607" y2="1310.8" stroke="#000" stroke-width="2.55" stroke-linecap="butt"/>
<text x="607" y="1367.5" font-size="32.2" text-anchor="middle">200</text>
<line x1="758.7" y1="1325.6" x2="758.7" y2="1310.8" stroke="#000" stroke-width="2.55" stroke-linecap="butt"/>
<text x="758.7" y="1367.5" font-size="32.2" text-anchor="middle">300</text>
<line x1="910.3" y1="1325.6" x2="910.3" y2="1310.8" stroke="#000" stroke-width="2.55" stroke-linecap="butt"/>
<text x="910.3" y="1367.5" font-size="32.2" text-anchor="middle">400</text>
<line x1="1062" y1="1325.6" x2="1062" y2="1310.8" stroke="#000" stroke-width="2.55" stroke-linecap="butt"/>
<text x="1062" y="1367.5" font-size="32.2" text-anchor="middle">500</text>
<line x1="1213.7" y1="1325.6" x2="1213.7" y2="1310.8" stroke="#000" stroke-width="2.55" stroke-linecap="butt"/>
<text x="1213.7" y="1367.5" font-size="32.2" text-anchor="middle">600</text>
<line x1="1365.3" y1="1325.6" x2="1365.3" y2="1310.8" stroke="#000" stroke-width="2.55" stroke-linecap="butt"/>
<text x="1365.3" y="1367.5" font-size="32.2" text-anchor="middle">700</text>
<line x1="1517" y1="1325.6" x2="1517" y2="1310.8" stroke="#000" stroke-width="2.55" stroke-linecap="butt"/>
<text x="1517" y="1367.5" font-size="32.2" text-anchor="middle">800</text>
<line x1="1087" y1="993.4" x2="1143.5" y2="993.4" stroke="#2ca02c" stroke-width="3.4" stroke-linecap="butt"/>
<text x="1149.6" y="1005" font-size="29.2" text-anchor="start">Difference (cued - uncued)</text>
<text x="1.2" y="23.8" font-size="31.4" text-anchor="start" font-weight="bold">A)</text>
<text x="2.2" y="929.2" font-size="31.4" text-anchor="start" font-weight="bold">B)</text>
<text x="834.2" y="849.3" font-size="34.6" text-anchor="middle">Time (ms)</text>
<text x="834.2" y="1581.6" font-size="34.6" text-anchor="middle">Time (ms)</text>
<text transform="translate(61.2 238.3) rotate(-90)" font-size="35.8" text-anchor="middle">Decoding accuracy (%)</text>
<text transform="translate(61.1 634) rotate(-90)" font-size="35.5" text-anchor="middle">BF (log scale)</text>
<text transform="translate(25.8 1142.3) rotate(-90)" font-size="35.5" text-anchor="middle">Decoding difference</text>
<text transform="translate(68.6 1142.3) rotate(-90)" font-size="35.5" text-anchor="middle">(cued - uncued)</text>
<text transform="translate(25.8 1444) rotate(-90)" font-size="35.5" text-anchor="middle">BF</text>
<text transform="translate(68.6 1444) rotate(-90)" font-size="35.5" text-anchor="middle">(log scale)</text>
</svg>
</body></html>
